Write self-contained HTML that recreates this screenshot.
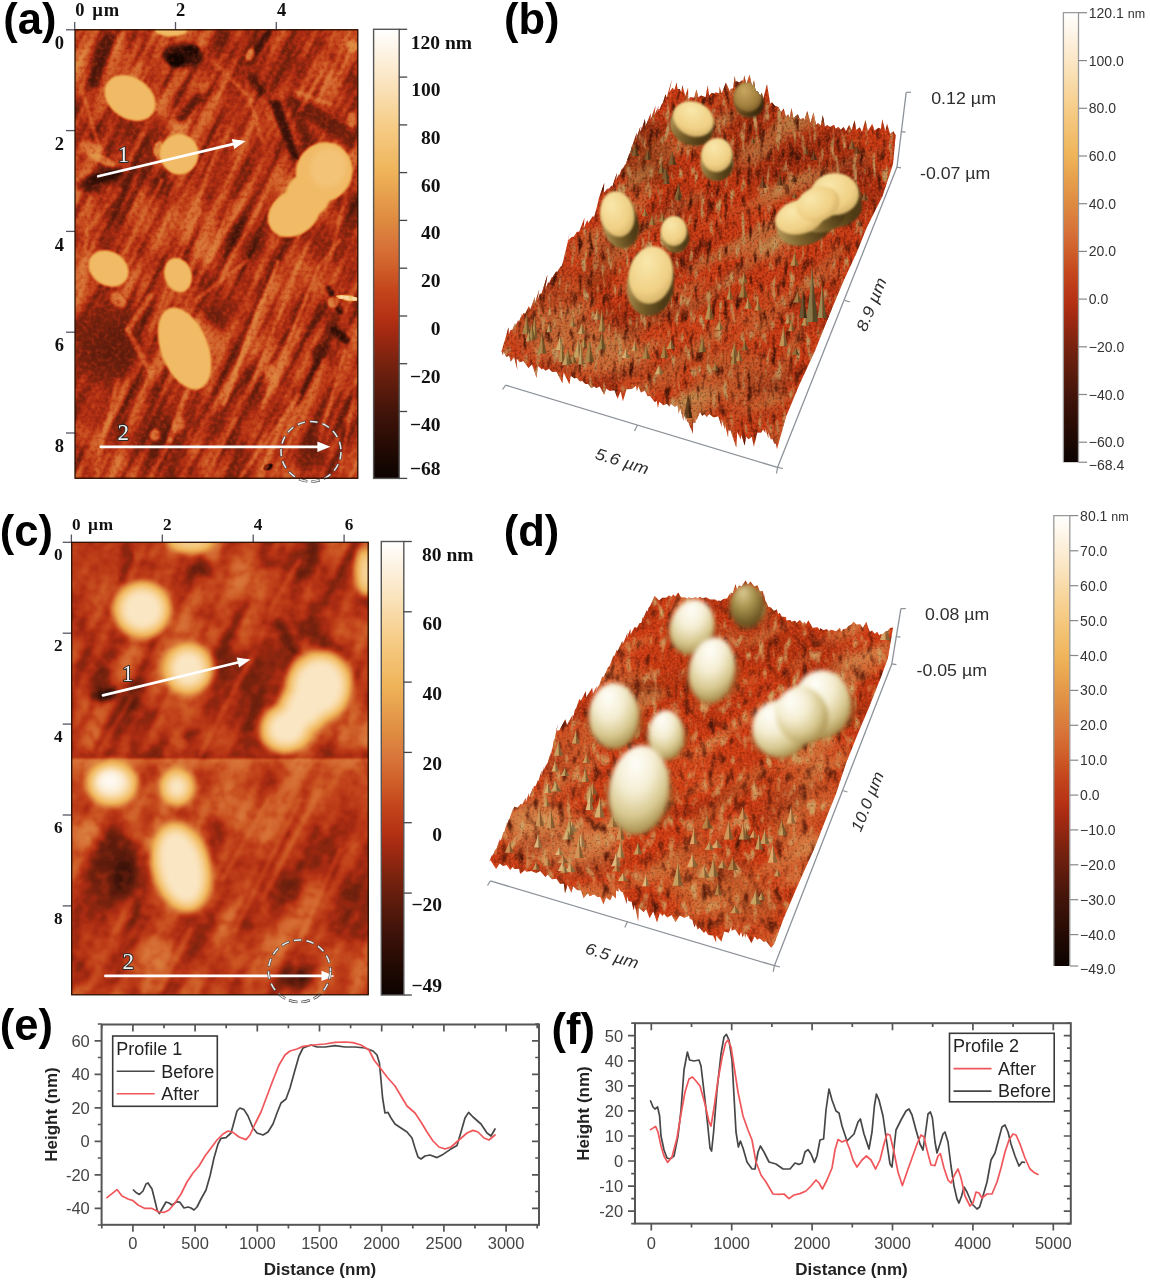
<!DOCTYPE html>
<html lang="en">
<head>
<meta charset="utf-8">
<title>AFM figure</title>
<style>
html,body{margin:0;padding:0;background:#fff;}
body{width:1150px;height:1280px;overflow:hidden;}
svg{display:block;filter:blur(0.4px);}
text{white-space:pre;}
</style>
</head>
<body>
<svg width="1150" height="1280" viewBox="0 0 1150 1280">
<defs>
<linearGradient id="cb" x1="0" y1="1" x2="0" y2="0"><stop offset="0.000" stop-color="#0c0300"/><stop offset="0.075" stop-color="#260b04"/><stop offset="0.149" stop-color="#42140a"/><stop offset="0.255" stop-color="#76220e"/><stop offset="0.330" stop-color="#a62a12"/><stop offset="0.362" stop-color="#b63214"/><stop offset="0.420" stop-color="#c4461c"/><stop offset="0.468" stop-color="#cf5e28"/><stop offset="0.520" stop-color="#d8743a"/><stop offset="0.574" stop-color="#de8a40"/><stop offset="0.681" stop-color="#efb358"/><stop offset="0.787" stop-color="#f6cd88"/><stop offset="0.894" stop-color="#fbe7c6"/><stop offset="1.000" stop-color="#ffffff"/></linearGradient>
<filter id="cm" x="0" y="0" width="1" height="1" color-interpolation-filters="sRGB"><feComponentTransfer><feFuncR type="table" tableValues="0.047 0.090 0.132 0.177 0.223 0.273 0.333 0.393 0.453 0.529 0.607 0.678 0.726 0.756 0.784 0.812 0.833 0.852 0.866 0.883 0.902 0.922 0.939 0.947 0.955 0.963 0.969 0.975 0.981 0.986 0.991 0.995 1.000"/><feFuncG type="table" tableValues="0.012 0.025 0.038 0.052 0.067 0.082 0.098 0.115 0.131 0.144 0.157 0.178 0.214 0.256 0.309 0.370 0.422 0.473 0.523 0.571 0.618 0.665 0.708 0.738 0.768 0.798 0.828 0.858 0.888 0.917 0.945 0.972 1.000"/><feFuncB type="table" tableValues="0.000 0.007 0.013 0.022 0.032 0.040 0.045 0.050 0.054 0.060 0.067 0.074 0.085 0.102 0.127 0.158 0.200 0.232 0.246 0.268 0.296 0.323 0.357 0.412 0.468 0.523 0.591 0.662 0.733 0.802 0.868 0.934 1.000"/></feComponentTransfer></filter>
<filter id="b05" x="-50%" y="-50%" width="200%" height="200%"><feGaussianBlur stdDeviation="0.5"/></filter><filter id="b1" x="-50%" y="-50%" width="200%" height="200%"><feGaussianBlur stdDeviation="1"/></filter><filter id="b15" x="-50%" y="-50%" width="200%" height="200%"><feGaussianBlur stdDeviation="1.5"/></filter><filter id="b2" x="-50%" y="-50%" width="200%" height="200%"><feGaussianBlur stdDeviation="2"/></filter><filter id="b3" x="-50%" y="-50%" width="200%" height="200%"><feGaussianBlur stdDeviation="3"/></filter><filter id="b4" x="-50%" y="-50%" width="200%" height="200%"><feGaussianBlur stdDeviation="4"/></filter><filter id="b6" x="-50%" y="-50%" width="200%" height="200%"><feGaussianBlur stdDeviation="6"/></filter><filter id="b9" x="-50%" y="-50%" width="200%" height="200%"><feGaussianBlur stdDeviation="9"/></filter>
<clipPath id="clipA"><rect x="75" y="29.8" width="282.8" height="448.4"/></clipPath>
<filter id="nA1" x="0" y="0" width="1" height="1" color-interpolation-filters="sRGB"><feTurbulence type="fractalNoise" baseFrequency="0.1 0.01" numOctaves="2" seed="3" result="n"/><feColorMatrix in="n" type="matrix" values="0 0 0 0 0.6 0 0 0 0 0.6 0 0 0 0 0.6 2.2 0 0 0 -1.1" result="w"/><feColorMatrix in="n" type="matrix" values="0 0 0 0 0.12 0 0 0 0 0.12 0 0 0 0 0.12 -2.2 0 0 0 1.1" result="k"/><feMerge><feMergeNode in="w"/><feMergeNode in="k"/></feMerge></filter>
<filter id="nA2" x="0" y="0" width="1" height="1" color-interpolation-filters="sRGB"><feTurbulence type="fractalNoise" baseFrequency="0.24" numOctaves="2" seed="8" result="n"/><feColorMatrix in="n" type="matrix" values="0 0 0 0 0.6 0 0 0 0 0.6 0 0 0 0 0.6 0.65 0 0 0 -0.325" result="w"/><feColorMatrix in="n" type="matrix" values="0 0 0 0 0.12 0 0 0 0 0.12 0 0 0 0 0.12 -0.65 0 0 0 0.325" result="k"/><feMerge><feMergeNode in="w"/><feMergeNode in="k"/></feMerge></filter>
<filter id="nA3" x="0" y="0" width="1" height="1" color-interpolation-filters="sRGB"><feTurbulence type="fractalNoise" baseFrequency="0.03 0.012" numOctaves="2" seed="21" result="n"/><feColorMatrix in="n" type="matrix" values="0 0 0 0 0.6 0 0 0 0 0.6 0 0 0 0 0.6 1.6 0 0 0 -0.8" result="w"/><feColorMatrix in="n" type="matrix" values="0 0 0 0 0.12 0 0 0 0 0.12 0 0 0 0 0.12 -1.6 0 0 0 0.8" result="k"/><feMerge><feMergeNode in="w"/><feMergeNode in="k"/></feMerge></filter>
<clipPath id="clipC"><rect x="71.7" y="542.3" width="296.5" height="452.5"/></clipPath>
<linearGradient id="fadeC" x1="0" y1="0" x2="0" y2="1"><stop offset="0" stop-color="#999" stop-opacity="0.5"/><stop offset="1" stop-color="#999" stop-opacity="0"/></linearGradient>
<linearGradient id="fadeC2" x1="0" y1="1" x2="0" y2="0"><stop offset="0" stop-color="#333" stop-opacity="0.45"/><stop offset="1" stop-color="#333" stop-opacity="0"/></linearGradient>
<filter id="nC1" x="0" y="0" width="1" height="1" color-interpolation-filters="sRGB"><feTurbulence type="fractalNoise" baseFrequency="0.05 0.008" numOctaves="2" seed="5" result="n"/><feColorMatrix in="n" type="matrix" values="0 0 0 0 0.6 0 0 0 0 0.6 0 0 0 0 0.6 1.8 0 0 0 -0.9" result="w"/><feColorMatrix in="n" type="matrix" values="0 0 0 0 0.12 0 0 0 0 0.12 0 0 0 0 0.12 -1.8 0 0 0 0.9" result="k"/><feMerge><feMergeNode in="w"/><feMergeNode in="k"/></feMerge></filter>
<filter id="nC2" x="0" y="0" width="1" height="1" color-interpolation-filters="sRGB"><feTurbulence type="fractalNoise" baseFrequency="0.1" numOctaves="2" seed="11" result="n"/><feColorMatrix in="n" type="matrix" values="0 0 0 0 0.6 0 0 0 0 0.6 0 0 0 0 0.6 0.6 0 0 0 -0.3" result="w"/><feColorMatrix in="n" type="matrix" values="0 0 0 0 0.12 0 0 0 0 0.12 0 0 0 0 0.12 -0.6 0 0 0 0.3" result="k"/><feMerge><feMergeNode in="w"/><feMergeNode in="k"/></feMerge></filter>
<filter id="nC3" x="0" y="0" width="1" height="1" color-interpolation-filters="sRGB"><feTurbulence type="fractalNoise" baseFrequency="0.02 0.012" numOctaves="2" seed="17" result="n"/><feColorMatrix in="n" type="matrix" values="0 0 0 0 0.6 0 0 0 0 0.6 0 0 0 0 0.6 1.6 0 0 0 -0.8" result="w"/><feColorMatrix in="n" type="matrix" values="0 0 0 0 0.12 0 0 0 0 0.12 0 0 0 0 0.12 -1.6 0 0 0 0.8" result="k"/><feMerge><feMergeNode in="w"/><feMergeNode in="k"/></feMerge></filter>
<filter id="nB1" x="0" y="0" width="1" height="1" color-interpolation-filters="sRGB"><feTurbulence type="fractalNoise" baseFrequency="0.17 0.055" numOctaves="2" seed="4" result="n"/><feColorMatrix in="n" type="matrix" values="0 0 0 0 0.737 0 0 0 0 0.612 0 0 0 0 0.384 4.5 0 0 0 -2.565" result="w"/><feColorMatrix in="n" type="matrix" values="0 0 0 0 0.227 0 0 0 0 0.071 0 0 0 0 0.024 -4 0 0 0 1.76" result="k"/><feMerge><feMergeNode in="w"/><feMergeNode in="k"/></feMerge></filter>
<filter id="nB2" x="0" y="0" width="1" height="1" color-interpolation-filters="sRGB"><feTurbulence type="fractalNoise" baseFrequency="0.4" numOctaves="2" seed="9" result="n"/><feColorMatrix in="n" type="matrix" values="0 0 0 0 0.941 0 0 0 0 0.345 0 0 0 0 0.165 1.6 0 0 0 -0.8" result="w"/><feColorMatrix in="n" type="matrix" values="0 0 0 0 0.416 0 0 0 0 0.102 0 0 0 0 0.031 -1.8 0 0 0 0.9" result="k"/><feMerge><feMergeNode in="w"/><feMergeNode in="k"/></feMerge></filter>
<filter id="nB3" x="0" y="0" width="1" height="1" color-interpolation-filters="sRGB"><feTurbulence type="fractalNoise" baseFrequency="0.012 0.035" numOctaves="2" seed="13" result="n"/><feColorMatrix in="n" type="matrix" values="0 0 0 0 0.753 0 0 0 0 0.604 0 0 0 0 0.345 2.4 0 0 0 -1.272" result="w"/><feColorMatrix in="n" type="matrix" values="0 0 0 0 0.478 0 0 0 0 0.125 0 0 0 0 0.047 -2 0 0 0 0.94" result="k"/><feMerge><feMergeNode in="w"/><feMergeNode in="k"/></feMerge></filter>
<radialGradient id="gB" cx="0.4" cy="0.35" r="0.8" fx="0.36" fy="0.28"><stop offset="0" stop-color="#f9e8ac"/><stop offset="0.62" stop-color="#f0d085"/><stop offset="1" stop-color="#c4a055"/></radialGradient><linearGradient id="gBw" x1="0" y1="0" x2="1" y2="0.25"><stop offset="0" stop-color="#c2a466"/><stop offset="0.55" stop-color="#80662e"/><stop offset="1" stop-color="#4e3a16"/></linearGradient>
<radialGradient id="gBd" cx="0.4" cy="0.35" r="0.8" fx="0.36" fy="0.28"><stop offset="0" stop-color="#c9a860"/><stop offset="0.62" stop-color="#a07e3c"/><stop offset="1" stop-color="#6a4a1e"/></radialGradient><linearGradient id="gBdw" x1="0" y1="0" x2="1" y2="0.25"><stop offset="0" stop-color="#8a6c34"/><stop offset="0.55" stop-color="#5a4018"/><stop offset="1" stop-color="#3a280e"/></linearGradient>
<clipPath id="clipB"><polygon points="501.3,352 503,346.7 502.7,347.1 504.6,341.3 505.1,339.4 508.4,327.2 508.8,334.6 510.4,330.3 512.5,329.5 515,323.6 515.8,325.2 518.1,320.2 518.9,322 522,313.7 521.5,318 523.2,313 525.1,313.9 528.9,306.2 530.3,309.5 534.9,297.1 534.5,304.5 539.3,289.2 537.3,300.4 539.9,294.1 541.7,293.3 547.5,274.4 545.2,289.7 548.2,282.3 549.2,282.9 551.7,277.5 552.8,276.9 556.1,271.4 557.2,272 560.2,266.9 561.8,266.1 562.9,262.3 563,262.2 564.2,257.3 563.8,258 566.5,247.7 565.5,251.1 569.9,234 567.2,244.5 569.7,233.1 567.7,241.1 571.6,236.9 573.8,236.7 576.8,232.1 579.3,231.6 584.5,217.7 583.7,228.2 587.3,220.1 588.4,223.1 592.9,216 594,217.3 595.4,212.8 595.6,211.7 600.6,192.4 597.8,203.6 599,197.5 599,197.7 604.4,182.8 603.6,192.9 607.4,188.7 609.4,188.4 611.5,185.4 612.1,187.2 616.9,172.8 616.2,179.8 618.7,174.3 618.9,175.9 622.2,168.1 622.5,169.5 625.6,163.4 625.6,165.4 627.4,159 628.2,157.6 629.5,153.2 630.1,153.5 632.5,143.8 632,147 636.8,132.4 636,139.9 640.3,126.5 639.7,132.9 642.7,125.1 641.1,131.9 644.9,119.1 645.5,126.2 650.9,112.9 650.5,120 655.6,105.6 654.4,115 659,105.5 656.2,114.2 658.4,109.1 659.5,109.3 662.4,103 662.7,103.4 665.6,94 666.7,97.8 672,79.2 669.2,93 669.7,91.8 672.6,87.8 674.3,90 676.7,82.4 677.4,89 679.5,89 681.3,92.2 682.3,85.2 685.3,96 688.1,87.5 688.2,99.2 690.5,96.9 694.2,97.8 696.4,89.4 698.4,97.3 701.1,95.4 705.6,97.3 707.6,85.2 709.2,95.4 711.8,92.7 714.3,93.7 715.8,92.2 719.3,93.4 719.5,86.5 721.7,93.6 725.9,82.8 729.9,91.4 730.6,89 733.1,88.2 734.8,75.5 735.5,82.3 736,81 739.5,82.5 742.4,79.9 743.2,81.6 744.2,75.4 746.3,84 749.6,74.6 752.2,87.2 754,80.2 755.6,91.5 757.7,91 760.1,96.1 761.9,92.8 763.2,99 767,84.1 770.2,104 771.9,102.3 774.8,105.7 778.3,106.9 781,112.3 783.7,108.6 785.8,116.8 788.2,114.4 789.6,118.1 791.5,108 793.4,118.3 797.8,114.3 799.8,119.2 803.9,118.2 804.2,120.9 807.2,111 810.5,123.3 813.4,112.5 816.1,124.7 817.9,123 820.9,125.4 822.7,115.1 824.9,126.7 827.2,125 830.2,127.1 834,124.8 835.6,128.7 838.4,127 840.8,129.8 843.6,127 846,131.2 849.1,124.9 851.5,130.2 854.7,120.3 856.2,130.1 859.8,127.3 862,132.1 865.4,120.1 867.9,130.9 872.2,123.7 874.5,130.4 878.8,127.7 880.9,129.1 882.3,119.3 885.3,131.2 887.1,123.7 890,134.1 893.4,131.2 895.7,135.3 893,164.3 882.6,195.7 867,227 856.5,253 843.5,280.9 830.4,312.2 814.8,351.3 799.1,385.2 786.1,416.5 778,445.2 777,448.9 775.9,443.8 774.4,443.8 772.5,439.1 770.8,439.2 768.3,432.1 768.3,437.9 765.3,428.2 765.4,433.1 763.1,429.5 761.1,432.8 757.3,432.5 753.9,446.4 751.7,436.7 748.5,439.3 746,436.5 744.7,445.4 741.2,434.5 740.8,439.6 737.2,432.2 736.3,447.4 730.3,429.7 729,431.3 728.4,428.6 728.1,437.7 724.9,423.9 725,429.4 721.5,418.8 721.8,427.2 718.3,416.3 713.9,417.5 709.1,414.1 706.8,416.9 704.6,414.3 702.2,415.8 700.1,412.1 696.4,420.2 695.8,416.7 695.3,422.8 693.1,422.5 693,433.7 690.5,427.3 690.4,427.7 688.4,422.3 687.3,421.5 684.7,412.7 686.1,421.3 683.4,412.1 683.5,420.9 680,407.2 678.8,413.5 677.5,405 674.8,406.7 670.9,403.8 669.4,406.6 667,403.8 663.3,405.2 659.3,401.8 657.9,408.1 656.7,400.8 654.8,402.2 650.1,396.1 647.8,396.2 644.8,390.5 641,392.4 638.3,386.3 636.9,391 636.1,385.7 631.9,388.9 626.5,389.3 622.9,401.3 620.7,391.3 617.6,398.7 614.5,390 609.9,391.1 606.1,388.5 604.2,394.7 599.9,386.6 596.1,388.1 594.3,386.2 591.3,387.9 588.2,383.9 585.5,384 582.1,380.8 580,381.4 576.9,378 574.2,378.3 570.7,375.8 569.5,384.4 563.5,372.3 562.4,383.2 556.6,371.7 551.9,371.8 549.1,368.7 545.6,370.4 542.7,368.3 542,369.5 537.8,365.8 536.6,377.8 532,364.3 528.5,367.9 523.4,360.9 519.7,362.2 516.5,358.2 517.4,370 514.1,357 510.8,361.5 509.1,355.2 506.4,357.3 503.6,351.5 502.9,355.4 501.7,351.3"/></clipPath>
<filter id="nD1" x="0" y="0" width="1" height="1" color-interpolation-filters="sRGB"><feTurbulence type="fractalNoise" baseFrequency="0.12 0.06" numOctaves="2" seed="5" result="n"/><feColorMatrix in="n" type="matrix" values="0 0 0 0 0.816 0 0 0 0 0.659 0 0 0 0 0.408 4 0 0 0 -2.28" result="w"/><feColorMatrix in="n" type="matrix" values="0 0 0 0 0.29 0 0 0 0 0.086 0 0 0 0 0.031 -3.5 0 0 0 1.54" result="k"/><feMerge><feMergeNode in="w"/><feMergeNode in="k"/></feMerge></filter>
<filter id="nD2" x="0" y="0" width="1" height="1" color-interpolation-filters="sRGB"><feTurbulence type="fractalNoise" baseFrequency="0.4" numOctaves="2" seed="19" result="n"/><feColorMatrix in="n" type="matrix" values="0 0 0 0 0.957 0 0 0 0 0.361 0 0 0 0 0.165 1.6 0 0 0 -0.8" result="w"/><feColorMatrix in="n" type="matrix" values="0 0 0 0 0.478 0 0 0 0 0.125 0 0 0 0 0.039 -1.6 0 0 0 0.8" result="k"/><feMerge><feMergeNode in="w"/><feMergeNode in="k"/></feMerge></filter>
<filter id="nD3" x="0" y="0" width="1" height="1" color-interpolation-filters="sRGB"><feTurbulence type="fractalNoise" baseFrequency="0.014 0.035" numOctaves="2" seed="23" result="n"/><feColorMatrix in="n" type="matrix" values="0 0 0 0 0.847 0 0 0 0 0.627 0 0 0 0 0.361 2.2 0 0 0 -1.166" result="w"/><feColorMatrix in="n" type="matrix" values="0 0 0 0 0.541 0 0 0 0 0.141 0 0 0 0 0.047 -1.6 0 0 0 0.752" result="k"/><feMerge><feMergeNode in="w"/><feMergeNode in="k"/></feMerge></filter>
<radialGradient id="gD" cx="0.42" cy="0.3" r="0.78" fx="0.38" fy="0.2"><stop offset="0" stop-color="#fffffa"/><stop offset="0.38" stop-color="#f5eed4"/><stop offset="0.68" stop-color="#d8c990"/><stop offset="0.9" stop-color="#aa9150"/><stop offset="1" stop-color="#8a6a32"/></radialGradient>
<radialGradient id="gDd" cx="0.42" cy="0.3" r="0.78" fx="0.38" fy="0.2"><stop offset="0" stop-color="#dccb94"/><stop offset="0.4" stop-color="#a8934e"/><stop offset="0.8" stop-color="#6e5824"/><stop offset="1" stop-color="#543c16"/></radialGradient>
<clipPath id="clipD"><polygon points="489,862 492.3,854.6 492.7,855.9 494.9,850.5 496.6,848.5 500.4,837.5 499.2,843.7 499.8,840.9 501.3,839.5 503.7,831.7 504.1,833.1 507.3,821.6 506.4,826.2 508.9,819.7 509.7,818.5 513.6,807.6 512.7,812.3 514.3,806.8 517.6,807.7 520.9,803.8 522.1,804.9 525.7,797.8 525.8,802.4 528.9,793 529.1,797.5 533.6,786.3 532.8,791.4 534.3,786.1 535.8,785.7 537.8,780.4 538.5,780.9 541.6,770.4 541.2,776.8 544.3,765.6 543.2,771 546,765.2 547.6,763.3 550.9,752.1 550.2,759.1 552.4,747.7 550.9,753.3 552.1,748.5 552.5,748.8 554.1,739.1 554,741.9 558,724 554.7,735.7 556.1,730.9 559.5,730.2 565.3,719.2 566.9,725.3 572.7,714.8 571.2,722.2 573.3,715.4 573.5,716.1 575,709.8 576.3,708.2 577.7,703.8 578.2,702.8 579.2,698.9 580.9,700.7 585.9,690.9 586.2,697.6 592.2,687.8 592.9,693.7 596.8,686.1 596,690.6 597.8,686.9 599.2,685.6 602.2,676.7 604.1,676.7 605.2,672.9 605.6,673.2 608.1,667.2 609.9,665.7 613.3,655.5 612.3,660.1 613.9,655.3 614.7,656 616.6,649.7 617.6,651.3 622.3,641 622.8,644.2 627.5,632.9 626.8,638.2 630.4,629.1 630.5,634.8 634.6,626.9 636.9,627.9 639.6,622.9 641.4,622.9 643.1,616.3 643.4,618.5 646.7,610.2 647.7,611.5 648.5,607.9 650,606.2 652,601.9 654.7,596.1 659.1,600.5 662.4,597.8 666.2,597.7 669,595.4 671.7,596.8 673.3,594.3 675.1,596.7 678.3,592.5 681,597.5 685,597.5 687.7,598.7 688.4,597.5 692.6,598.4 695,597.3 697.8,598.2 700,596.8 701.9,598.3 706.3,597.5 710.3,599.6 715.2,599.4 717.1,600.9 719.2,600.6 719.9,601.4 723.5,599.1 727.1,598.6 730.5,592.4 730.1,596.2 731.6,592.6 732.7,593.5 735.5,584.1 737,589.7 739,585.4 741.5,586.4 745.6,580.4 747.8,584.7 750.4,581.4 754.4,586.6 757.5,585.3 759.8,591.6 762.7,590.9 764.3,597.9 763.9,593.2 765.3,600.7 766.7,603 768.2,606.7 770.9,607.5 773.9,611 776.9,609.4 778,614.3 779.6,612.7 781.9,616.8 786.1,617.1 786.2,620.6 790.4,619.9 791.6,621.8 795,620.8 796.6,622.9 799.7,620 803.3,623.9 804.2,621.8 806.2,624.3 808.3,620.2 812.7,628.1 817.6,627.3 819.7,630.3 820.3,628.2 823.6,630.3 826.6,629.1 828.7,631 831.6,629.8 836.1,631.5 840,627.7 841,632.1 843.3,628.9 846.4,628.7 848.4,626 851.5,624.5 853.6,621.7 856.5,624.8 860.1,624.2 862.9,628.1 866.2,622.1 869.8,632 872,630.6 874.7,633.8 877.2,631.8 879.3,635.4 880.1,634.2 882.5,634.3 886.3,630.9 887.2,631.3 890.2,628.1 893,627.4 887.8,658.7 880,679.6 869.6,705.7 856.5,737 846.1,763 835.7,794.4 827.8,814.1 814.8,847.2 799.1,882.2 783.5,918.7 774,944.2 771.1,947.7 766.1,940.9 763.8,942 759.8,938.2 757.1,939.8 754.7,936.3 751.4,943.3 746.2,933.8 745.1,937.9 744.5,933.6 742.6,937.2 741,931.5 739.6,936.1 735.1,929.3 731.6,930.7 731.3,925.9 728.8,932.8 724.2,931.4 721.4,941.6 716.1,935.4 716.2,942.6 713,935.4 708.2,935 705.7,930.7 704,933 699.6,927.8 697.6,929.4 695.9,923.7 694.6,927.4 692.3,919.8 689.9,918.7 689,915.7 684.2,917.8 679.7,915.4 675.5,922 671.6,915 667.3,917.5 664,913.8 662.6,916.1 659.9,912.9 657,922.6 653.3,911.2 649.6,918.2 646.2,909.1 643.6,912.1 638.7,907.4 638.2,921.3 634.7,904.5 633.7,910.6 631.7,901.7 628.6,900.9 626.9,895.9 626.7,903.8 622.9,892.5 620.8,891.3 618.4,887.7 618.5,891.8 616.1,889.9 615.9,898.6 612.5,895 610.2,900.3 605.9,897.2 603.5,904.6 600.3,896.7 597.5,897 594,894.2 589.7,896.3 588,892.9 583.6,897.9 581,890.3 577.4,890.2 573,886.2 571.5,892.7 567.6,884.8 565,893.4 563.8,883.5 560,883.8 556.4,878.7 552,879.3 547.8,874.5 545.4,877 540.3,871 536.2,873 531.3,870.9 526.3,871.7 525,870 520.1,874.1 519.1,868.8 514.6,869 512.3,866.9 510.4,870.1 506.6,865.1 503.2,866.1 499.7,863.5 496.1,868.9 490.5,860.2 489.1,861.3"/></clipPath>
</defs>
<rect width="1150" height="1280" fill="#fff"/>
<g clip-path="url(#clipA)"><g filter="url(#cm)"><rect x="70" y="24.8" width="292.8" height="458.4" fill="#606060"/>
<rect x="-103.6" y="-66" width="640" height="640" filter="url(#nA3)" transform="rotate(-35 216.4 254)"/>
<rect x="-103.6" y="-66" width="640" height="640" filter="url(#nA1)" transform="rotate(27 216.4 254)"/>
<ellipse cx="108" cy="343" rx="36" ry="42" fill="#404040" transform="rotate(12 108 343)" opacity="0.9" filter="url(#b4)"/>
<ellipse cx="112" cy="350" rx="22" ry="28" fill="#333333" transform="rotate(12 112 350)" opacity="0.5" filter="url(#b4)"/>
<ellipse cx="97" cy="395" rx="20" ry="36" fill="#454545" transform="rotate(22 97 395)" opacity="0.6" filter="url(#b4)"/>
<ellipse cx="182" cy="56" rx="20" ry="11" fill="#141414" transform="rotate(5 182 56)" opacity="0.9" filter="url(#b2)"/>
<ellipse cx="176" cy="60" rx="9" ry="7" fill="#000000" opacity="0.85" filter="url(#b1)"/>
<ellipse cx="192" cy="50" rx="8" ry="5" fill="#000000" opacity="0.7" filter="url(#b1)"/>
<line x1="109" y1="38" x2="93" y2="82" stroke="#212121" stroke-width="13" stroke-linecap="round" opacity="0.8" filter="url(#b2)"/>
<line x1="98" y1="80" x2="88" y2="110" stroke="#333333" stroke-width="8" stroke-linecap="round" opacity="0.5" filter="url(#b2)"/>
<line x1="268" y1="32" x2="250" y2="60" stroke="#141414" stroke-width="7" stroke-linecap="round" opacity="0.8" filter="url(#b1)"/>
<line x1="252" y1="78" x2="262" y2="92" stroke="#141414" stroke-width="9" stroke-linecap="round" opacity="0.7" filter="url(#b2)"/>
<line x1="198" y1="98" x2="181" y2="118" stroke="#1f1f1f" stroke-width="10" stroke-linecap="round" opacity="0.75" filter="url(#b2)"/>
<line x1="216" y1="88" x2="200" y2="100" stroke="#333333" stroke-width="7" stroke-linecap="round" opacity="0.5" filter="url(#b2)"/>
<polygon points="268,100 280,100 300,160 292,160" fill="#141414" opacity="0.85" filter="url(#b15)"/>
<polygon points="286,98 296,96 312,140 304,146" fill="#333333" opacity="0.6" filter="url(#b15)"/>
<polygon points="290,97 320,108 350,128 357,150 340,142 318,126 296,110" fill="#333333" opacity="0.75" filter="url(#b2)"/>
<ellipse cx="104" cy="177" rx="21" ry="7" fill="#0d0d0d" transform="rotate(-15 104 177)" opacity="0.85" filter="url(#b2)"/>
<ellipse cx="90" cy="187" rx="14" ry="6" fill="#1a1a1a" transform="rotate(12 90 187)" opacity="0.7" filter="url(#b2)"/>
<ellipse cx="214" cy="316" rx="17" ry="9" fill="#333333" transform="rotate(40 214 316)" opacity="0.65" filter="url(#b3)"/>
<line x1="329" y1="288" x2="340" y2="312" stroke="#0d0d0d" stroke-width="5" stroke-linecap="round" opacity="0.8" filter="url(#b1)"/>
<line x1="334" y1="330" x2="346" y2="340" stroke="#0d0d0d" stroke-width="7" stroke-linecap="round" opacity="0.8" filter="url(#b1)"/>
<ellipse cx="320" cy="352" rx="10" ry="8" fill="#262626" transform="rotate(-30 320 352)" opacity="0.7" filter="url(#b2)"/>
<line x1="318" y1="360" x2="298" y2="402" stroke="#1f1f1f" stroke-width="4.5" stroke-linecap="round" opacity="0.7" filter="url(#b1)"/>
<ellipse cx="311" cy="452" rx="14" ry="22" fill="#333333" transform="rotate(25 311 452)" opacity="0.7" filter="url(#b4)"/>
<ellipse cx="343" cy="430" rx="6" ry="10" fill="#2e2e2e" opacity="0.6" filter="url(#b2)"/>
<ellipse cx="268" cy="467" rx="5" ry="3" fill="#000000" transform="rotate(-30 268 467)" opacity="0.9" filter="url(#b05)"/>
<ellipse cx="332" cy="238" rx="28" ry="15" fill="#454545" transform="rotate(25 332 238)" opacity="0.55" filter="url(#b4)"/>
<ellipse cx="240" cy="420" rx="40" ry="16" fill="#4c4c4c" transform="rotate(-32 240 420)" opacity="0.45" filter="url(#b6)"/>
<ellipse cx="150" cy="120" rx="10" ry="22" fill="#404040" transform="rotate(-35 150 120)" opacity="0.5" filter="url(#b3)"/>
<ellipse cx="236" cy="300" rx="10" ry="30" fill="#4c4c4c" transform="rotate(25 236 300)" opacity="0.4" filter="url(#b4)"/>
<ellipse cx="130" cy="440" rx="22" ry="10" fill="#4c4c4c" transform="rotate(-20 130 440)" opacity="0.4" filter="url(#b4)"/>
<ellipse cx="215" cy="180" rx="8" ry="26" fill="#474747" transform="rotate(25 215 180)" opacity="0.4" filter="url(#b3)"/>
<line x1="278" y1="262" x2="224" y2="404" stroke="#999999" stroke-width="4" stroke-linecap="round" opacity="0.7" filter="url(#b1)"/>
<line x1="300" y1="262" x2="250" y2="390" stroke="#999999" stroke-width="3.5" stroke-linecap="round" opacity="0.55" filter="url(#b1)"/>
<line x1="318" y1="268" x2="262" y2="408" stroke="#999999" stroke-width="3.5" stroke-linecap="round" opacity="0.6" filter="url(#b1)"/>
<line x1="262" y1="300" x2="232" y2="380" stroke="#999999" stroke-width="3" stroke-linecap="round" opacity="0.6" filter="url(#b1)"/>
<line x1="248" y1="260" x2="196" y2="300" stroke="#999999" stroke-width="3.5" stroke-linecap="round" opacity="0.5" filter="url(#b1)"/>
<line x1="200" y1="210" x2="150" y2="330" stroke="#999999" stroke-width="3.5" stroke-linecap="round" opacity="0.45" filter="url(#b1)"/>
<line x1="232" y1="200" x2="208" y2="262" stroke="#999999" stroke-width="3.5" stroke-linecap="round" opacity="0.5" filter="url(#b1)"/>
<line x1="162" y1="180" x2="120" y2="262" stroke="#999999" stroke-width="4" stroke-linecap="round" opacity="0.45" filter="url(#b1)"/>
<line x1="150" y1="296" x2="128" y2="330" stroke="#999999" stroke-width="6" stroke-linecap="round" opacity="0.6" filter="url(#b1)"/>
<line x1="128" y1="330" x2="150" y2="372" stroke="#999999" stroke-width="5" stroke-linecap="round" opacity="0.5" filter="url(#b1)"/>
<line x1="187" y1="392" x2="170" y2="440" stroke="#999999" stroke-width="6" stroke-linecap="round" opacity="0.6" filter="url(#b1)"/>
<line x1="170" y1="440" x2="150" y2="478" stroke="#999999" stroke-width="5" stroke-linecap="round" opacity="0.5" filter="url(#b1)"/>
<line x1="300" y1="395" x2="240" y2="478" stroke="#999999" stroke-width="4" stroke-linecap="round" opacity="0.5" filter="url(#b1)"/>
<line x1="352" y1="170" x2="330" y2="260" stroke="#999999" stroke-width="3.5" stroke-linecap="round" opacity="0.4" filter="url(#b1)"/>
<line x1="118" y1="380" x2="96" y2="470" stroke="#999999" stroke-width="4.5" stroke-linecap="round" opacity="0.45" filter="url(#b1)"/>
<line x1="212" y1="60" x2="252" y2="100" stroke="#999999" stroke-width="3.5" stroke-linecap="round" opacity="0.45" filter="url(#b1)"/>
<line x1="250" y1="100" x2="262" y2="140" stroke="#999999" stroke-width="3.5" stroke-linecap="round" opacity="0.5" filter="url(#b1)"/>
<line x1="140" y1="40" x2="126" y2="72" stroke="#999999" stroke-width="4.5" stroke-linecap="round" opacity="0.45" filter="url(#b1)"/>
<line x1="82" y1="90" x2="100" y2="150" stroke="#999999" stroke-width="4" stroke-linecap="round" opacity="0.45" filter="url(#b1)"/>
<line x1="235" y1="420" x2="205" y2="478" stroke="#999999" stroke-width="4.5" stroke-linecap="round" opacity="0.5" filter="url(#b1)"/>
<line x1="345" y1="350" x2="320" y2="440" stroke="#999999" stroke-width="3.5" stroke-linecap="round" opacity="0.45" filter="url(#b1)"/>
<line x1="88" y1="225" x2="80" y2="300" stroke="#999999" stroke-width="4" stroke-linecap="round" opacity="0.45" filter="url(#b1)"/>
<line x1="330" y1="60" x2="300" y2="110" stroke="#999999" stroke-width="4" stroke-linecap="round" opacity="0.4" filter="url(#b1)"/>
<line x1="220" y1="140" x2="196" y2="206" stroke="#999999" stroke-width="3.5" stroke-linecap="round" opacity="0.45" filter="url(#b1)"/>
<line x1="205" y1="118" x2="168" y2="200" stroke="#999999" stroke-width="3.5" stroke-linecap="round" opacity="0.4" filter="url(#b1)"/>
<line x1="340" y1="240" x2="318" y2="268" stroke="#999999" stroke-width="4" stroke-linecap="round" opacity="0.5" filter="url(#b1)"/>
<line x1="296" y1="92" x2="330" y2="104" stroke="#999999" stroke-width="4" stroke-linecap="round" opacity="0.55" filter="url(#b1)"/>
<line x1="120" y1="190" x2="88" y2="230" stroke="#999999" stroke-width="5" stroke-linecap="round" opacity="0.4" filter="url(#b1)"/>
<line x1="282" y1="420" x2="262" y2="478" stroke="#999999" stroke-width="4" stroke-linecap="round" opacity="0.45" filter="url(#b1)"/>
<line x1="357" y1="380" x2="340" y2="470" stroke="#999999" stroke-width="4" stroke-linecap="round" opacity="0.4" filter="url(#b1)"/>
<ellipse cx="92" cy="150" rx="12" ry="8" fill="#9e9e9e" transform="rotate(30 92 150)" opacity="0.7" filter="url(#b2)"/>
<ellipse cx="103" cy="160" rx="14" ry="4" fill="#a3a3a3" transform="rotate(25 103 160)" opacity="0.7" filter="url(#b1)"/>
<ellipse cx="160" cy="150" rx="7" ry="9" fill="#a8a8a8" opacity="0.8" filter="url(#b1)"/>
<ellipse cx="250" cy="55" rx="4" ry="7" fill="#a3a3a3" transform="rotate(20 250 55)" opacity="0.8" filter="url(#b1)"/>
<ellipse cx="352" cy="46" rx="6" ry="6" fill="#a3a3a3" opacity="0.7" filter="url(#b1)"/>
<ellipse cx="352" cy="120" rx="5" ry="8" fill="#9e9e9e" opacity="0.6" filter="url(#b1)"/>
<ellipse cx="348" cy="298" rx="12" ry="2.5" fill="#e0e0e0" transform="rotate(8 348 298)" opacity="0.95" filter="url(#b05)"/>
<ellipse cx="333" cy="302" rx="6" ry="6" fill="#a3a3a3" opacity="0.7" filter="url(#b1)"/>
<ellipse cx="155" cy="435" rx="5" ry="6" fill="#9e9e9e" opacity="0.7" filter="url(#b1)"/>
<ellipse cx="178" cy="425" rx="6" ry="9" fill="#999999" transform="rotate(20 178 425)" opacity="0.6" filter="url(#b1)"/>
<ellipse cx="270" cy="372" rx="6" ry="8" fill="#949494" opacity="0.6" filter="url(#b1)"/>
<ellipse cx="118" cy="300" rx="10" ry="6" fill="#999999" transform="rotate(40 118 300)" opacity="0.6" filter="url(#b1)"/>
<ellipse cx="135" cy="72" rx="14" ry="6" fill="#8c8c8c" transform="rotate(-40 135 72)" opacity="0.5" filter="url(#b2)"/>
<ellipse cx="85" cy="285" rx="8" ry="14" fill="#858585" opacity="0.5" filter="url(#b3)"/>
<rect x="70" y="24.8" width="292.8" height="458.4" filter="url(#nA2)"/>
<g filter="url(#b1)"><ellipse cx="130" cy="98" rx="27.5" ry="20.5" fill="#b6b6b6" transform="rotate(35 130 98)"/><ellipse cx="179.3" cy="154.3" rx="19.3" ry="20.2" fill="#b6b6b6"/><ellipse cx="324" cy="172" rx="28" ry="30" fill="#b6b6b6" transform="rotate(20 324 172)"/><ellipse cx="294" cy="213" rx="28" ry="22" fill="#b6b6b6" transform="rotate(-35 294 213)"/><ellipse cx="308" cy="195" rx="22" ry="22" fill="#b6b6b6"/><ellipse cx="171" cy="30" rx="16" ry="6.5" fill="#b6b6b6"/><ellipse cx="108.5" cy="268.5" rx="21" ry="17" fill="#b6b6b6" transform="rotate(32 108.5 268.5)"/><ellipse cx="178" cy="275" rx="13.5" ry="17.5" fill="#b6b6b6" transform="rotate(-18 178 275)"/><ellipse cx="184.5" cy="348.5" rx="23.5" ry="43" fill="#b6b6b6" transform="rotate(-21 184.5 348.5)"/></g>
<ellipse cx="328" cy="168" rx="18" ry="20" fill="#c2c2c2" transform="rotate(20 328 168)" opacity="0.8" filter="url(#b3)"/></g></g>
<line x1="98.2" y1="176.3" x2="235" y2="143.6" stroke="#fff" stroke-width="2.7" stroke-linecap="round"/>
<polygon points="245.7,141 234.3,149.1 231.8,139" fill="#fff"/>
<line x1="100.8" y1="446.8" x2="319.4" y2="446.8" stroke="#fff" stroke-width="2.7" stroke-linecap="round"/>
<polygon points="330.4,446.8 317.4,452 317.4,441.6" fill="#fff"/>
<text x="123.5" y="162" text-anchor="middle" style="font-family:'Liberation Serif', 'Times New Roman', serif;font-size:23px;fill:#f1f1f1;stroke:#2a2a2a;stroke-width:1.9px;stroke-linejoin:round;paint-order:stroke">1</text>
<text x="123.2" y="439.6" text-anchor="middle" style="font-family:'Liberation Serif', 'Times New Roman', serif;font-size:23px;fill:#f1f1f1;stroke:#2a2a2a;stroke-width:1.9px;stroke-linejoin:round;paint-order:stroke">2</text>
<circle cx="311" cy="451.5" r="30" fill="none" stroke="#444" stroke-width="2.6" stroke-dasharray="8.5 4.2"/>
<circle cx="311" cy="451.5" r="30" fill="none" stroke="#e9e9e9" stroke-width="1.5" stroke-dasharray="7.5 5.2" stroke-dashoffset="-0.5"/>
<g clip-path="url(#clipC)"><g filter="url(#cm)"><g filter="url(#b1)"><rect x="66.7" y="537.3" width="306.5" height="462.5" fill="#626262"/>
<rect x="-110.1" y="438.5" width="660" height="660" filter="url(#nC3)" transform="rotate(-30 219.9 768.5)"/>
<rect x="-110.1" y="438.5" width="660" height="660" filter="url(#nC1)" transform="rotate(25 219.9 768.5)"/>
<rect x="66.7" y="758.7" width="306.5" height="241.1" fill="#999999" opacity="0.12"/>
<rect x="66.7" y="758.7" width="306.5" height="16" fill="url(#fadeC)"/>
<rect x="66.7" y="738.7" width="306.5" height="20" fill="url(#fadeC2)"/>
<ellipse cx="113" cy="868" rx="26" ry="40" fill="#333333" transform="rotate(8 113 868)" opacity="0.75" filter="url(#b6)"/>
<ellipse cx="124" cy="877" rx="11" ry="18" fill="#141414" transform="rotate(5 124 877)" opacity="0.7" filter="url(#b4)"/>
<ellipse cx="92" cy="900" rx="20" ry="30" fill="#454545" opacity="0.5" filter="url(#b6)"/>
<ellipse cx="105" cy="694" rx="13" ry="7" fill="#050505" transform="rotate(-12 105 694)" opacity="0.9" filter="url(#b3)"/>
<ellipse cx="98" cy="680" rx="18" ry="16" fill="#383838" opacity="0.5" filter="url(#b6)"/>
<line x1="130" y1="552" x2="122" y2="578" stroke="#2e2e2e" stroke-width="8" stroke-linecap="round" opacity="0.65" filter="url(#b3)"/>
<ellipse cx="203" cy="569" rx="11" ry="8" fill="#262626" transform="rotate(20 203 569)" opacity="0.7" filter="url(#b3)"/>
<ellipse cx="268" cy="563" rx="8" ry="6" fill="#333333" transform="rotate(-30 268 563)" opacity="0.55" filter="url(#b3)"/>
<line x1="278" y1="622" x2="294" y2="650" stroke="#2b2b2b" stroke-width="10" stroke-linecap="round" opacity="0.7" filter="url(#b3)"/>
<line x1="300" y1="628" x2="348" y2="655" stroke="#333333" stroke-width="11" stroke-linecap="round" opacity="0.65" filter="url(#b4)"/>
<ellipse cx="210" cy="615" rx="18" ry="8" fill="#404040" transform="rotate(30 210 615)" opacity="0.5" filter="url(#b4)"/>
<ellipse cx="189" cy="735" rx="6" ry="6" fill="#262626" opacity="0.7" filter="url(#b3)"/>
<ellipse cx="225" cy="700" rx="30" ry="40" fill="#525252" transform="rotate(20 225 700)" opacity="0.4" filter="url(#b9)"/>
<ellipse cx="286" cy="890" rx="22" ry="16" fill="#383838" transform="rotate(-40 286 890)" opacity="0.55" filter="url(#b6)"/>
<ellipse cx="322" cy="860" rx="10" ry="22" fill="#404040" transform="rotate(25 322 860)" opacity="0.5" filter="url(#b4)"/>
<ellipse cx="297" cy="978" rx="16" ry="10" fill="#1a1a1a" opacity="0.75" filter="url(#b4)"/>
<ellipse cx="215" cy="830" rx="10" ry="16" fill="#333333" transform="rotate(-20 215 830)" opacity="0.55" filter="url(#b4)"/>
<ellipse cx="230" cy="880" rx="14" ry="30" fill="#4c4c4c" transform="rotate(25 230 880)" opacity="0.45" filter="url(#b6)"/>
<ellipse cx="200" cy="940" rx="14" ry="30" fill="#4c4c4c" transform="rotate(15 200 940)" opacity="0.45" filter="url(#b6)"/>
<ellipse cx="85" cy="975" rx="10" ry="10" fill="#404040" opacity="0.5" filter="url(#b4)"/>
<ellipse cx="345" cy="800" rx="14" ry="22" fill="#808080" opacity="0.35" filter="url(#b6)"/>
<ellipse cx="84" cy="832" rx="16" ry="12" fill="#999999" opacity="0.6" filter="url(#b4)"/>
<ellipse cx="150" cy="840" rx="20" ry="8" fill="#8f8f8f" transform="rotate(20 150 840)" opacity="0.5" filter="url(#b4)"/>
<ellipse cx="300" cy="790" rx="40" ry="25" fill="#8a8a8a" transform="rotate(-30 300 790)" opacity="0.4" filter="url(#b9)"/>
<ellipse cx="260" cy="950" rx="30" ry="12" fill="#8c8c8c" transform="rotate(-40 260 950)" opacity="0.4" filter="url(#b6)"/>
<ellipse cx="150" cy="960" rx="30" ry="14" fill="#8c8c8c" transform="rotate(-20 150 960)" opacity="0.4" filter="url(#b6)"/>
<rect x="66.7" y="537.3" width="306.5" height="462.5" filter="url(#nC2)"/>
<line x1="300" y1="800" x2="235" y2="930" stroke="#8f8f8f" stroke-width="5" stroke-linecap="round" opacity="0.4" filter="url(#b1)"/>
<line x1="320" y1="790" x2="262" y2="900" stroke="#8f8f8f" stroke-width="4.5" stroke-linecap="round" opacity="0.35" filter="url(#b1)"/>
<line x1="268" y1="800" x2="222" y2="880" stroke="#8f8f8f" stroke-width="4.5" stroke-linecap="round" opacity="0.35" filter="url(#b1)"/>
<line x1="340" y1="850" x2="300" y2="940" stroke="#8f8f8f" stroke-width="4.5" stroke-linecap="round" opacity="0.35" filter="url(#b1)"/>
<line x1="190" y1="930" x2="160" y2="990" stroke="#8f8f8f" stroke-width="6" stroke-linecap="round" opacity="0.4" filter="url(#b1)"/>
<line x1="130" y1="700" x2="100" y2="750" stroke="#8f8f8f" stroke-width="5" stroke-linecap="round" opacity="0.3" filter="url(#b1)"/>
<line x1="250" y1="660" x2="200" y2="755" stroke="#8f8f8f" stroke-width="5" stroke-linecap="round" opacity="0.3" filter="url(#b1)"/>
<line x1="300" y1="560" x2="270" y2="610" stroke="#8f8f8f" stroke-width="5" stroke-linecap="round" opacity="0.3" filter="url(#b1)"/>
<g filter="url(#b3)"><ellipse cx="142.2" cy="609.5" rx="29.5" ry="29" fill="#b2b2b2"/><ellipse cx="188" cy="668.5" rx="25.5" ry="26.5" fill="#b2b2b2"/><ellipse cx="319" cy="687" rx="33.5" ry="36.5" fill="#b2b2b2" transform="rotate(15 319 687)"/><ellipse cx="287" cy="728" rx="27.5" ry="25.5" fill="#b2b2b2" transform="rotate(-20 287 728)"/><ellipse cx="304" cy="708" rx="26.5" ry="26.5" fill="#b2b2b2"/><ellipse cx="191" cy="543" rx="24.5" ry="10.5" fill="#b2b2b2"/><ellipse cx="366" cy="572" rx="11.5" ry="24.5" fill="#b2b2b2"/><ellipse cx="112" cy="783.5" rx="26.5" ry="23.5" fill="#b2b2b2"/><ellipse cx="177" cy="787" rx="18.5" ry="19.5" fill="#b2b2b2"/><ellipse cx="181" cy="867" rx="30" ry="46.5" fill="#b2b2b2" transform="rotate(-14 181 867)"/></g>
<g filter="url(#b4)" opacity="0.95"><ellipse cx="142.2" cy="609.5" rx="22" ry="21.5" fill="#e6e6e6"/><ellipse cx="188" cy="668.5" rx="18" ry="19" fill="#e6e6e6"/><ellipse cx="319" cy="687" rx="26" ry="29" fill="#e6e6e6" transform="rotate(15 319 687)"/><ellipse cx="287" cy="728" rx="20" ry="18" fill="#e6e6e6" transform="rotate(-20 287 728)"/><ellipse cx="304" cy="708" rx="19" ry="19" fill="#e6e6e6"/><ellipse cx="191" cy="543" rx="17" ry="3" fill="#e6e6e6"/><ellipse cx="366" cy="572" rx="4" ry="17" fill="#e6e6e6"/><ellipse cx="112" cy="783.5" rx="19" ry="16" fill="#e6e6e6"/><ellipse cx="177" cy="787" rx="11" ry="12" fill="#e6e6e6"/><ellipse cx="181" cy="867" rx="22.5" ry="39" fill="#e6e6e6" transform="rotate(-14 181 867)"/></g>
<ellipse cx="110" cy="781" rx="12" ry="10" fill="#ffffff" opacity="0.8" filter="url(#b4)"/>
<ellipse cx="366" cy="735" rx="5" ry="14" fill="#9e9e9e" opacity="0.6" filter="url(#b3)"/></g></g></g>
<line x1="103" y1="695.4" x2="239.8" y2="662" stroke="#fff" stroke-width="2.7" stroke-linecap="round"/>
<polygon points="250.5,659.4 239.1,667.5 236.6,657.4" fill="#fff"/>
<line x1="105.4" y1="975.9" x2="323.5" y2="975.9" stroke="#fff" stroke-width="2.7" stroke-linecap="round"/>
<polygon points="334.5,975.9 321.5,981.1 321.5,970.7" fill="#fff"/>
<text x="127.8" y="681" text-anchor="middle" style="font-family:'Liberation Serif', 'Times New Roman', serif;font-size:23px;fill:#f1f1f1;stroke:#2a2a2a;stroke-width:1.9px;stroke-linejoin:round;paint-order:stroke">1</text>
<text x="128.3" y="968.5" text-anchor="middle" style="font-family:'Liberation Serif', 'Times New Roman', serif;font-size:23px;fill:#f1f1f1;stroke:#2a2a2a;stroke-width:1.9px;stroke-linejoin:round;paint-order:stroke">2</text>
<circle cx="299.5" cy="971" r="31" fill="none" stroke="#444" stroke-width="2.6" stroke-dasharray="8.5 4.2"/>
<circle cx="299.5" cy="971" r="31" fill="none" stroke="#e9e9e9" stroke-width="1.5" stroke-dasharray="7.5 5.2" stroke-dashoffset="-0.5"/>
<g clip-path="url(#clipB)"><rect x="490" y="60" width="420" height="400" fill="#c63a14"/>
<ellipse cx="780" cy="150" rx="90" ry="40" fill="#8e2a10" opacity="0.55" transform="rotate(15 780 150)" filter="url(#b9)"/>
<ellipse cx="640" cy="150" rx="30" ry="40" fill="#6a3a18" opacity="0.5" transform="rotate(-30 640 150)" filter="url(#b6)"/>
<ellipse cx="585" cy="345" rx="70" ry="28" fill="#c89a58" opacity="0.55" transform="rotate(15 585 345)" filter="url(#b9)"/>
<ellipse cx="560" cy="300" rx="30" ry="30" fill="#b06a38" opacity="0.4" filter="url(#b9)"/>
<ellipse cx="740" cy="380" rx="50" ry="30" fill="#b48448" opacity="0.4" transform="rotate(20 740 380)" filter="url(#b9)"/>
<ellipse cx="700" cy="330" rx="60" ry="22" fill="#d0481a" opacity="0.5" transform="rotate(-25 700 330)" filter="url(#b9)"/>
<line x1="806" y1="208" x2="690" y2="270" stroke="#b08a50" stroke-width="9" stroke-linecap="round" opacity="0.55" filter="url(#b3)"/>
<line x1="780" y1="240" x2="690" y2="310" stroke="#b08a50" stroke-width="9" stroke-linecap="round" opacity="0.5" filter="url(#b3)"/>
<line x1="700" y1="195" x2="640" y2="230" stroke="#b08a50" stroke-width="8" stroke-linecap="round" opacity="0.45" filter="url(#b3)"/>
<line x1="840" y1="250" x2="760" y2="330" stroke="#b08a50" stroke-width="9" stroke-linecap="round" opacity="0.4" filter="url(#b3)"/>
<line x1="720" y1="330" x2="640" y2="390" stroke="#b08a50" stroke-width="10" stroke-linecap="round" opacity="0.45" filter="url(#b3)"/>
<line x1="800" y1="330" x2="770" y2="400" stroke="#b08a50" stroke-width="9" stroke-linecap="round" opacity="0.4" filter="url(#b3)"/>
<line x1="650" y1="170" x2="610" y2="200" stroke="#b08a50" stroke-width="10" stroke-linecap="round" opacity="0.5" filter="url(#b3)"/>
<line x1="690" y1="300" x2="600" y2="350" stroke="#b08a50" stroke-width="9" stroke-linecap="round" opacity="0.4" filter="url(#b3)"/>
<ellipse cx="855" cy="170" rx="25" ry="14" fill="#74240e" opacity="0.5" transform="rotate(10 855 170)" filter="url(#b4)"/>
<ellipse cx="600" cy="270" rx="14" ry="30" fill="#7a2a10" opacity="0.45" transform="rotate(25 600 270)" filter="url(#b4)"/>
<rect x="390" y="-40" width="620" height="600" filter="url(#nB3)" transform="rotate(-28 700 270)"/>
<rect x="390" y="-40" width="620" height="600" filter="url(#nB1)"/>
<rect x="390" y="-40" width="620" height="600" filter="url(#nB2)"/>
<g opacity="0.9" filter="url(#b05)"><path d="M600.9 319.5Q598.4 313.3 597.3 307.1L597.6 319.5Z" fill="#7c6134"/><path d="M593.7 319.5Q596.4 312.7 597.3 307.1L597.6 319.5Z" fill="#c8a868"/></g><g opacity="0.9" filter="url(#b05)"><path d="M575.8 326.8Q573.6 321.8 572.6 316.7L572.9 326.8Z" fill="#72582c"/><path d="M569.3 326.8Q571.8 321.3 572.6 316.7L572.9 326.8Z" fill="#b89858"/></g><g opacity="0.9" filter="url(#b05)"><path d="M605.6 331.5Q603.1 320 601.9 308.4L602.3 331.5Z" fill="#72582c"/><path d="M598.3 331.5Q601.1 318.8 601.9 308.4L602.3 331.5Z" fill="#b89858"/></g><g opacity="0.9" filter="url(#b05)"><path d="M552.4 332.2Q550.3 327.1 549.4 322.1L549.7 332.2Z" fill="#7c6134"/><path d="M546.3 332.2Q548.6 326.6 549.4 322.1L549.7 332.2Z" fill="#c8a868"/></g><g opacity="0.9" filter="url(#b05)"><path d="M530.9 334.1Q527.9 323.5 526.5 312.9L526.9 334.1Z" fill="#685026"/><path d="M522.1 334.1Q525.4 322.4 526.5 312.9L526.9 334.1Z" fill="#a88a4c"/></g><g opacity="0.9" filter="url(#b05)"><path d="M585.9 334.1Q583 328.5 581.7 322.8L582.1 334.1Z" fill="#7c6134"/><path d="M577.4 334.1Q580.7 327.9 581.7 322.8L582.1 334.1Z" fill="#c8a868"/></g><g opacity="0.9" filter="url(#b05)"><path d="M537.8 337.8Q535.7 325.9 534.6 314L534.9 337.8Z" fill="#72582c"/><path d="M531.4 337.8Q533.9 324.7 534.6 314L534.9 337.8Z" fill="#b89858"/></g><g opacity="0.9" filter="url(#b05)"><path d="M535.9 340.3Q533.2 331.7 531.9 323.1L532.3 340.3Z" fill="#685026"/><path d="M527.9 340.3Q530.9 330.9 531.9 323.1L532.3 340.3Z" fill="#a88a4c"/></g><g opacity="0.9" filter="url(#b05)"><path d="M531.6 341.5Q529.5 336.3 528.6 331L528.9 341.5Z" fill="#7c6134"/><path d="M525.5 341.5Q527.8 335.8 528.6 331L528.9 341.5Z" fill="#c8a868"/></g><g opacity="0.9" filter="url(#b05)"><path d="M587 347.3Q584.9 342.3 583.9 337.3L584.2 347.3Z" fill="#72582c"/><path d="M580.9 347.3Q583.2 341.8 583.9 337.3L584.2 347.3Z" fill="#b89858"/></g><g opacity="0.9" filter="url(#b05)"><path d="M605.9 348.9Q603.2 340.3 601.9 331.8L602.3 348.9Z" fill="#685026"/><path d="M597.8 348.9Q600.9 339.5 601.9 331.8L602.3 348.9Z" fill="#a88a4c"/></g><g opacity="0.9" filter="url(#b05)"><path d="M605.4 349.6Q602.5 343.9 601.2 338.3L601.6 349.6Z" fill="#685026"/><path d="M596.9 349.6Q600.1 343.4 601.2 338.3L601.6 349.6Z" fill="#a88a4c"/></g><g opacity="0.9" filter="url(#b05)"><path d="M564.6 350.1Q561.5 343 560 335.8L560.5 350.1Z" fill="#83693b"/><path d="M555.5 350.1Q558.9 342.3 560 335.8L560.5 350.1Z" fill="#d4b676"/></g><g opacity="0.9" filter="url(#b05)"><path d="M637.8 351.1Q635.6 345 634.6 338.9L634.9 351.1Z" fill="#7c6134"/><path d="M631.4 351.1Q633.8 344.4 634.6 338.9L634.9 351.1Z" fill="#c8a868"/></g><g opacity="0.9" filter="url(#b05)"><path d="M546.7 353.8Q543.6 342.3 542.1 330.9L542.5 353.8Z" fill="#685026"/><path d="M537.5 353.8Q541 341.2 542.1 330.9L542.5 353.8Z" fill="#a88a4c"/></g><g opacity="0.9" filter="url(#b05)"><path d="M582.8 357.7Q579.6 348.2 578.1 338.7L578.6 357.7Z" fill="#7c6134"/><path d="M573.4 357.7Q577 347.2 578.1 338.7L578.6 357.7Z" fill="#c8a868"/></g><g opacity="0.9" filter="url(#b05)"><path d="M668.5 357.9Q665.7 350.5 664.4 343L664.8 357.9Z" fill="#685026"/><path d="M660.3 357.9Q663.4 349.7 664.4 343L664.8 357.9Z" fill="#a88a4c"/></g><g opacity="0.9" filter="url(#b05)"><path d="M630 358.1Q627.1 353 625.8 347.9L626.2 358.1Z" fill="#83693b"/><path d="M621.6 358.1Q624.8 352.5 625.8 347.9L626.2 358.1Z" fill="#d4b676"/></g><g opacity="0.9" filter="url(#b05)"><path d="M650.7 359.1Q647.6 351.8 646.2 344.4L646.6 359.1Z" fill="#685026"/><path d="M641.7 359.1Q645.1 351 646.2 344.4L646.6 359.1Z" fill="#a88a4c"/></g><g opacity="0.9" filter="url(#b05)"><path d="M565.2 362Q562.9 350.9 561.8 339.9L562.1 362Z" fill="#72582c"/><path d="M558.4 362Q561 349.8 561.8 339.9L562.1 362Z" fill="#b89858"/></g><g opacity="0.9" filter="url(#b05)"><path d="M594.3 362.3Q590.9 350.3 589.3 338.3L589.8 362.3Z" fill="#685026"/><path d="M584.3 362.3Q588.1 349.1 589.3 338.3L589.8 362.3Z" fill="#a88a4c"/></g><g opacity="0.9" filter="url(#b05)"><path d="M577.1 363Q574.4 357.9 573.1 352.9L573.5 363Z" fill="#685026"/><path d="M569 363Q572.1 357.4 573.1 352.9L573.5 363Z" fill="#a88a4c"/></g><g opacity="0.9" filter="url(#b05)"><path d="M572.4 364.1Q569.4 356.1 568.1 348.2L568.5 364.1Z" fill="#685026"/><path d="M563.7 364.1Q567 355.3 568.1 348.2L568.5 364.1Z" fill="#a88a4c"/></g><g opacity="0.9" filter="url(#b05)"><path d="M584.2 364.5Q582 352.8 581 341.1L581.4 364.5Z" fill="#7c6134"/><path d="M577.9 364.5Q580.3 351.7 581 341.1L581.4 364.5Z" fill="#c8a868"/></g><g opacity="0.9" filter="url(#b05)"><path d="M570.5 365Q567.5 359.1 566.2 353.2L566.6 365Z" fill="#7c6134"/><path d="M561.9 365Q565.1 358.5 566.2 353.2L566.6 365Z" fill="#c8a868"/></g><g opacity="0.9" filter="url(#b05)"><path d="M663.8 374.3Q660.6 369.3 659.2 364.2L659.6 374.3Z" fill="#83693b"/><path d="M654.5 374.3Q658 368.8 659.2 364.2L659.6 374.3Z" fill="#d4b676"/></g><g opacity="0.9" filter="url(#b05)"><path d="M798.9 265.8Q795.9 258.8 794.5 251.7L794.9 265.8Z" fill="#72582c"/><path d="M790.1 265.8Q793.4 258.1 794.5 251.7L794.9 265.8Z" fill="#b89858"/></g><g opacity="0.9" filter="url(#b05)"><path d="M747.8 283.2Q745.2 277.5 744 271.8L744.3 283.2Z" fill="#72582c"/><path d="M740.1 283.2Q743 276.9 744 271.8L744.3 283.2Z" fill="#b89858"/></g><g opacity="0.9" filter="url(#b05)"><path d="M748.1 297.4Q744.8 288.3 743.2 279.3L743.7 297.4Z" fill="#685026"/><path d="M738.4 297.4Q742.1 287.4 743.2 279.3L743.7 297.4Z" fill="#a88a4c"/></g><g opacity="0.9" filter="url(#b05)"><path d="M732.9 299.5Q730.7 292.1 729.7 284.7L730 299.5Z" fill="#72582c"/><path d="M726.5 299.5Q728.9 291.3 729.7 284.7L730 299.5Z" fill="#b89858"/></g><g opacity="0.9" filter="url(#b05)"><path d="M802.4 302.5Q799.2 297 797.7 291.5L798.2 302.5Z" fill="#685026"/><path d="M792.9 302.5Q796.5 296.5 797.7 291.5L798.2 302.5Z" fill="#a88a4c"/></g><g opacity="0.9" filter="url(#b05)"><path d="M752.1 308.7Q749.3 302.8 748 296.9L748.4 308.7Z" fill="#775c30"/><path d="M744 308.7Q747.1 302.2 748 296.9L748.4 308.7Z" fill="#c0a060"/></g><g opacity="0.9" filter="url(#b05)"><path d="M761.7 310.4Q759.1 304.8 757.9 299.2L758.3 310.4Z" fill="#72582c"/><path d="M754.1 310.4Q757 304.3 757.9 299.2L758.3 310.4Z" fill="#b89858"/></g><g opacity="0.9" filter="url(#b05)"><path d="M815.3 316.9Q812.8 309.8 811.6 302.7L812 316.9Z" fill="#685026"/><path d="M807.9 316.9Q810.7 309.1 811.6 302.7L812 316.9Z" fill="#a88a4c"/></g><g opacity="0.9" filter="url(#b05)"><path d="M713.8 319.5Q710.8 308.8 709.4 298.1L709.8 319.5Z" fill="#72582c"/><path d="M704.9 319.5Q708.3 307.7 709.4 298.1L709.8 319.5Z" fill="#b89858"/></g><g opacity="0.9" filter="url(#b05)"><path d="M792.1 323.5Q789.6 318.5 788.4 313.5L788.8 323.5Z" fill="#775c30"/><path d="M784.8 323.5Q787.6 318 788.4 313.5L788.8 323.5Z" fill="#c0a060"/></g><g opacity="0.9" filter="url(#b05)"><path d="M809.3 325.7Q806.6 318.6 805.4 311.5L805.8 325.7Z" fill="#775c30"/><path d="M801.4 325.7Q804.4 317.9 805.4 311.5L805.8 325.7Z" fill="#c0a060"/></g><g opacity="0.9" filter="url(#b05)"><path d="M724.1 329.4Q720.9 325 719.4 320.7L719.9 329.4Z" fill="#775c30"/><path d="M714.8 329.4Q718.3 324.6 719.4 320.7L719.9 329.4Z" fill="#c0a060"/></g><g opacity="0.9" filter="url(#b05)"><path d="M794.8 330.9Q792.5 325.1 791.4 319.2L791.8 330.9Z" fill="#72582c"/><path d="M788 330.9Q790.6 324.5 791.4 319.2L791.8 330.9Z" fill="#b89858"/></g><g opacity="0.9" filter="url(#b05)"><path d="M787.6 346.1Q784.7 335.5 783.4 324.9L783.8 346.1Z" fill="#775c30"/><path d="M779.2 346.1Q782.4 334.4 783.4 324.9L783.8 346.1Z" fill="#c0a060"/></g><g opacity="0.9" filter="url(#b05)"><path d="M675.3 348.9Q672.3 344 670.8 339.1L671.3 348.9Z" fill="#775c30"/><path d="M666.4 348.9Q669.8 343.5 670.8 339.1L671.3 348.9Z" fill="#c0a060"/></g><g opacity="0.9" filter="url(#b05)"><path d="M748.5 350.6Q746.1 345.2 744.9 339.7L745.3 350.6Z" fill="#584320"/><path d="M741.3 350.6Q744 344.6 744.9 339.7L745.3 350.6Z" fill="#8e7440"/></g><g opacity="0.9" filter="url(#b05)"><path d="M706.6 352.3Q703.8 343.6 702.4 335L702.8 352.3Z" fill="#685026"/><path d="M698.3 352.3Q701.4 342.8 702.4 335L702.8 352.3Z" fill="#a88a4c"/></g><g opacity="0.9" filter="url(#b05)"><path d="M799.5 354.7Q796.8 350.7 795.5 346.7L795.9 354.7Z" fill="#584320"/><path d="M791.5 354.7Q794.6 350.3 795.5 346.7L795.9 354.7Z" fill="#8e7440"/></g><g opacity="0.9" filter="url(#b05)"><path d="M738.4 356.8Q735.6 348.9 734.4 341L734.8 356.8Z" fill="#775c30"/><path d="M730.3 356.8Q733.4 348.1 734.4 341L734.8 356.8Z" fill="#c0a060"/></g><g opacity="0.9" filter="url(#b05)"><path d="M742.6 361.1Q740.2 354.5 739.1 347.9L739.5 361.1Z" fill="#72582c"/><path d="M735.7 361.1Q738.3 353.8 739.1 347.9L739.5 361.1Z" fill="#b89858"/></g><g opacity="0.9" filter="url(#b05)"><path d="M737.2 364.3Q734.9 354.9 733.8 345.6L734.2 364.3Z" fill="#685026"/><path d="M730.5 364.3Q733.1 354 733.8 345.6L734.2 364.3Z" fill="#a88a4c"/></g><g opacity="0.9" filter="url(#b05)"><path d="M718.6 370.5Q716.4 366 715.3 361.5L715.7 370.5Z" fill="#685026"/><path d="M712 370.5Q714.5 365.6 715.3 361.5L715.7 370.5Z" fill="#a88a4c"/></g><g opacity="0.9" filter="url(#b05)"><path d="M632.7 152.6Q630.3 144.4 629.2 136.3L629.5 152.6Z" fill="#685026"/><path d="M625.6 152.6Q628.3 143.6 629.2 136.3L629.5 152.6Z" fill="#a88a4c"/></g><g opacity="0.9" filter="url(#b05)"><path d="M639 155.9Q636.4 149.5 635.2 143L635.6 155.9Z" fill="#4b381b"/><path d="M631.4 155.9Q634.3 148.8 635.2 143L635.6 155.9Z" fill="#7a6236"/></g><g opacity="0.9" filter="url(#b05)"><path d="M651.5 159.7Q649 154.2 647.8 148.7L648.1 159.7Z" fill="#4b381b"/><path d="M644.1 159.7Q646.9 153.7 647.8 148.7L648.1 159.7Z" fill="#7a6236"/></g><g opacity="0.9" filter="url(#b05)"><path d="M624.5 161.1Q621.5 152.6 620.1 144.1L620.5 161.1Z" fill="#584320"/><path d="M615.7 161.1Q619.1 151.7 620.1 144.1L620.5 161.1Z" fill="#8e7440"/></g><g opacity="0.9" filter="url(#b05)"><path d="M676.6 164.8Q673.6 157.7 672.2 150.6L672.7 164.8Z" fill="#4b381b"/><path d="M667.9 164.8Q671.2 157 672.2 150.6L672.7 164.8Z" fill="#7a6236"/></g><g opacity="0.9" filter="url(#b05)"><path d="M665.3 173.4Q662.8 166.5 661.6 159.7L662 173.4Z" fill="#584320"/><path d="M657.9 173.4Q660.7 165.9 661.6 159.7L662 173.4Z" fill="#8e7440"/></g><g opacity="0.9" filter="url(#b05)"><path d="M669.8 179.1Q666.9 172.1 665.6 165.1L666 179.1Z" fill="#4b381b"/><path d="M661.3 179.1Q664.5 171.4 665.6 165.1L666 179.1Z" fill="#7a6236"/></g><g opacity="0.9" filter="url(#b05)"><path d="M669.9 184.1Q667.5 178.4 666.4 172.7L666.8 184.1Z" fill="#4b381b"/><path d="M663 184.1Q665.6 177.9 666.4 172.7L666.8 184.1Z" fill="#7a6236"/></g><g opacity="0.9" filter="url(#b05)"><path d="M682.6 198.3Q679.8 190.3 678.5 182.3L678.9 198.3Z" fill="#584320"/><path d="M674.5 198.3Q677.6 189.5 678.5 182.3L678.9 198.3Z" fill="#8e7440"/></g><g opacity="0.9" filter="url(#b05)"><path d="M681.4 200.6Q679 196 677.8 191.4L678.2 200.6Z" fill="#4b381b"/><path d="M674.2 200.6Q677 195.5 677.8 191.4L678.2 200.6Z" fill="#7a6236"/></g><g opacity="0.9" filter="url(#b05)"><path d="M628.2 215.7Q625.4 211.4 624 207.1L624.4 215.7Z" fill="#584320"/><path d="M619.9 215.7Q623 211 624 207.1L624.4 215.7Z" fill="#8e7440"/></g><g opacity="0.9" filter="url(#b05)"><path d="M648.3 216.2Q646 212.2 645 208.2L645.3 216.2Z" fill="#685026"/><path d="M641.6 216.2Q644.2 211.8 645 208.2L645.3 216.2Z" fill="#a88a4c"/></g><g opacity="0.9" filter="url(#b05)"><path d="M666.6 221.7Q663.8 217.2 662.5 212.7L662.9 221.7Z" fill="#685026"/><path d="M658.5 221.7Q661.6 216.8 662.5 212.7L662.9 221.7Z" fill="#a88a4c"/></g><g opacity="0.9" filter="url(#b05)"><path d="M655.3 225.1Q653.2 219.4 652.3 213.6L652.6 225.1Z" fill="#685026"/><path d="M649.2 225.1Q651.5 218.8 652.3 213.6L652.6 225.1Z" fill="#a88a4c"/></g><g opacity="0.9" filter="url(#b05)"><path d="M755.3 143.2Q753.6 139.1 752.8 134.9L753 143.2Z" fill="#583d1d"/><path d="M750.3 143.2Q752.2 138.7 752.8 134.9L753 143.2Z" fill="#8e6a3a"/></g><g opacity="0.9" filter="url(#b05)"><path d="M856 149.2Q853.4 143.6 852.2 138L852.6 149.2Z" fill="#583d1d"/><path d="M848.5 149.2Q851.3 143 852.2 138L852.6 149.2Z" fill="#8e6a3a"/></g><g opacity="0.9" filter="url(#b05)"><path d="M860.6 153.5Q858.1 149.1 857 144.7L857.3 153.5Z" fill="#4b2a14"/><path d="M853.3 153.5Q856.1 148.7 857 144.7L857.3 153.5Z" fill="#7a4a28"/></g><g opacity="0.9" filter="url(#b05)"><path d="M808.6 154.3Q806.8 149.4 805.9 144.5L806.2 154.3Z" fill="#583d1d"/><path d="M803.2 154.3Q805.3 148.9 805.9 144.5L806.2 154.3Z" fill="#8e6a3a"/></g><g opacity="0.9" filter="url(#b05)"><path d="M817.4 160.1Q815 155 813.9 149.8L814.2 160.1Z" fill="#4b2a14"/><path d="M810.4 160.1Q813 154.4 813.9 149.8L814.2 160.1Z" fill="#7a4a28"/></g><g opacity="0.9" filter="url(#b05)"><path d="M797.1 181.9Q794.9 178 793.8 174.2L794.2 181.9Z" fill="#41210e"/><path d="M790.6 181.9Q793.1 177.7 793.8 174.2L794.2 181.9Z" fill="#6a3a1c"/></g><g opacity="0.9" filter="url(#b05)"><path d="M782.9 185.5Q780.6 177.9 779.6 170.4L779.9 185.5Z" fill="#4b2a14"/><path d="M776.3 185.5Q778.8 177.2 779.6 170.4L779.9 185.5Z" fill="#7a4a28"/></g><g opacity="0.9" filter="url(#b05)"><path d="M766.3 187.8Q763.8 180.6 762.7 173.3L763 187.8Z" fill="#4b2a14"/><path d="M759 187.8Q761.8 179.9 762.7 173.3L763 187.8Z" fill="#7a4a28"/></g><g opacity="0.9" filter="url(#b05)"><path d="M829.5 189.7Q826.8 185.7 825.6 181.7L826 189.7Z" fill="#583d1d"/><path d="M821.7 189.7Q824.7 185.3 825.6 181.7L826 189.7Z" fill="#8e6a3a"/></g><g opacity="0.9" filter="url(#b05)"><path d="M848.8 192.1Q846.6 187.6 845.5 183.1L845.8 192.1Z" fill="#4b2a14"/><path d="M842.1 192.1Q844.7 187.1 845.5 183.1L845.8 192.1Z" fill="#7a4a28"/></g><g opacity="0.9" filter="url(#b05)"><path d="M861.1 194.3Q858.8 188.7 857.7 183L858.1 194.3Z" fill="#4b2a14"/><path d="M854.3 194.3Q856.9 188.1 857.7 183L858.1 194.3Z" fill="#7a4a28"/></g><g opacity="0.9" filter="url(#b05)"><path d="M864 197.8Q862.2 194.2 861.4 190.7L861.7 197.8Z" fill="#4b2a14"/><path d="M858.7 197.8Q860.8 193.9 861.4 190.7L861.7 197.8Z" fill="#7a4a28"/></g><g opacity="0.9" filter="url(#b05)"><path d="M797.7 198.2Q795.6 194.6 794.6 191L794.9 198.2Z" fill="#583d1d"/><path d="M791.5 198.2Q793.9 194.2 794.6 191L794.9 198.2Z" fill="#8e6a3a"/></g><g opacity="0.9" filter="url(#b05)"><path d="M868.2 200.6Q865.7 196.1 864.5 191.5L864.9 200.6Z" fill="#583d1d"/><path d="M860.8 200.6Q863.6 195.6 864.5 191.5L864.9 200.6Z" fill="#8e6a3a"/></g><g opacity="0.9" filter="url(#b05)"><path d="M814.8 209.7Q812.5 203.7 811.4 197.7L811.8 209.7Z" fill="#41210e"/><path d="M808 209.7Q810.6 203.1 811.4 197.7L811.8 209.7Z" fill="#6a3a1c"/></g><g opacity="0.9" filter="url(#b05)"><path d="M862.9 226.3Q861.1 221.9 860.2 217.4L860.5 226.3Z" fill="#4b2a14"/><path d="M857.5 226.3Q859.5 221.4 860.2 217.4L860.5 226.3Z" fill="#7a4a28"/></g><g filter="url(#b1)"><ellipse cx="749.5" cy="103" rx="14.8" ry="15" fill="url(#gBdw)"/><ellipse cx="749.2" cy="101.8" rx="14.7" ry="15" fill="url(#gBdw)"/><ellipse cx="748.9" cy="100.6" rx="14.5" ry="15" fill="url(#gBdw)"/><ellipse cx="748.6" cy="99.4" rx="14.3" ry="15" fill="url(#gBdw)"/><ellipse cx="748.3" cy="98.2" rx="14.2" ry="15" fill="url(#gBdw)"/></g><ellipse cx="748" cy="97" rx="14" ry="15" fill="url(#gBd)" filter="url(#b1)"/><g filter="url(#b1)"><ellipse cx="695" cy="128" rx="22.3" ry="17" fill="url(#gBw)" transform="rotate(25 693.5 119)"/><ellipse cx="694.7" cy="126.2" rx="22" ry="17" fill="url(#gBw)" transform="rotate(25 693.5 119)"/><ellipse cx="694.4" cy="124.4" rx="21.8" ry="17" fill="url(#gBw)" transform="rotate(25 693.5 119)"/><ellipse cx="694.1" cy="122.6" rx="21.5" ry="17" fill="url(#gBw)" transform="rotate(25 693.5 119)"/><ellipse cx="693.8" cy="120.8" rx="21.3" ry="17" fill="url(#gBw)" transform="rotate(25 693.5 119)"/></g><ellipse cx="693.5" cy="119" rx="21" ry="17" fill="url(#gB)" transform="rotate(25 693.5 119)" filter="url(#b1)"/><g filter="url(#b1)"><ellipse cx="718.5" cy="164" rx="16.4" ry="17" fill="url(#gBw)" transform="rotate(10 717 155)"/><ellipse cx="718.2" cy="162.2" rx="16.2" ry="17" fill="url(#gBw)" transform="rotate(10 717 155)"/><ellipse cx="717.9" cy="160.4" rx="16.1" ry="17" fill="url(#gBw)" transform="rotate(10 717 155)"/><ellipse cx="717.6" cy="158.6" rx="15.9" ry="17" fill="url(#gBw)" transform="rotate(10 717 155)"/><ellipse cx="717.3" cy="156.8" rx="15.7" ry="17" fill="url(#gBw)" transform="rotate(10 717 155)"/></g><ellipse cx="717" cy="155" rx="15.5" ry="17" fill="url(#gB)" transform="rotate(10 717 155)" filter="url(#b1)"/><g filter="url(#b1)"><ellipse cx="619" cy="226" rx="18" ry="23" fill="url(#gBw)" transform="rotate(-10 617.5 214)"/><ellipse cx="618.7" cy="223.6" rx="17.8" ry="23" fill="url(#gBw)" transform="rotate(-10 617.5 214)"/><ellipse cx="618.4" cy="221.2" rx="17.6" ry="23" fill="url(#gBw)" transform="rotate(-10 617.5 214)"/><ellipse cx="618.1" cy="218.8" rx="17.4" ry="23" fill="url(#gBw)" transform="rotate(-10 617.5 214)"/><ellipse cx="617.8" cy="216.4" rx="17.2" ry="23" fill="url(#gBw)" transform="rotate(-10 617.5 214)"/></g><ellipse cx="617.5" cy="214" rx="17" ry="23" fill="url(#gB)" transform="rotate(-10 617.5 214)" filter="url(#b1)"/><g filter="url(#b1)"><ellipse cx="675.5" cy="238" rx="13.8" ry="15" fill="url(#gBw)"/><ellipse cx="675.2" cy="236.6" rx="13.6" ry="15" fill="url(#gBw)"/><ellipse cx="674.9" cy="235.2" rx="13.5" ry="15" fill="url(#gBw)"/><ellipse cx="674.6" cy="233.8" rx="13.3" ry="15" fill="url(#gBw)"/><ellipse cx="674.3" cy="232.4" rx="13.2" ry="15" fill="url(#gBw)"/></g><ellipse cx="674" cy="231" rx="13" ry="15" fill="url(#gB)" filter="url(#b1)"/><g filter="url(#b1)"><ellipse cx="652.5" cy="287" rx="23.3" ry="29" fill="url(#gBw)" transform="rotate(10 651 275)"/><ellipse cx="652.2" cy="284.6" rx="23.1" ry="29" fill="url(#gBw)" transform="rotate(10 651 275)"/><ellipse cx="651.9" cy="282.2" rx="22.8" ry="29" fill="url(#gBw)" transform="rotate(10 651 275)"/><ellipse cx="651.6" cy="279.8" rx="22.5" ry="29" fill="url(#gBw)" transform="rotate(10 651 275)"/><ellipse cx="651.3" cy="277.4" rx="22.3" ry="29" fill="url(#gBw)" transform="rotate(10 651 275)"/></g><ellipse cx="651" cy="275" rx="22" ry="29" fill="url(#gB)" transform="rotate(10 651 275)" filter="url(#b1)"/><g filter="url(#b1)"><ellipse cx="836.5" cy="206" rx="25.4" ry="21" fill="url(#gBw)"/><ellipse cx="836.2" cy="203.6" rx="25.2" ry="21" fill="url(#gBw)"/><ellipse cx="835.9" cy="201.2" rx="24.9" ry="21" fill="url(#gBw)"/><ellipse cx="835.6" cy="198.8" rx="24.6" ry="21" fill="url(#gBw)"/><ellipse cx="835.3" cy="196.4" rx="24.3" ry="21" fill="url(#gBw)"/></g><g filter="url(#b1)"><ellipse cx="801.5" cy="229" rx="26.5" ry="17" fill="url(#gBw)" transform="rotate(-15 800 217)"/><ellipse cx="801.2" cy="226.6" rx="26.2" ry="17" fill="url(#gBw)" transform="rotate(-15 800 217)"/><ellipse cx="800.9" cy="224.2" rx="25.9" ry="17" fill="url(#gBw)" transform="rotate(-15 800 217)"/><ellipse cx="800.6" cy="221.8" rx="25.6" ry="17" fill="url(#gBw)" transform="rotate(-15 800 217)"/><ellipse cx="800.3" cy="219.4" rx="25.3" ry="17" fill="url(#gBw)" transform="rotate(-15 800 217)"/></g><g filter="url(#b1)"><ellipse cx="819.5" cy="216" rx="23.3" ry="17" fill="url(#gBw)" transform="rotate(-20 818 204)"/><ellipse cx="819.2" cy="213.6" rx="23.1" ry="17" fill="url(#gBw)" transform="rotate(-20 818 204)"/><ellipse cx="818.9" cy="211.2" rx="22.8" ry="17" fill="url(#gBw)" transform="rotate(-20 818 204)"/><ellipse cx="818.6" cy="208.8" rx="22.5" ry="17" fill="url(#gBw)" transform="rotate(-20 818 204)"/><ellipse cx="818.3" cy="206.4" rx="22.3" ry="17" fill="url(#gBw)" transform="rotate(-20 818 204)"/></g><ellipse cx="835" cy="194" rx="24" ry="21" fill="url(#gB)" filter="url(#b1)"/><ellipse cx="800" cy="217" rx="25" ry="17" fill="url(#gB)" transform="rotate(-15 800 217)" filter="url(#b1)"/><ellipse cx="818" cy="204" rx="22" ry="17" fill="url(#gB)" transform="rotate(-20 818 204)" filter="url(#b1)"/><g opacity="1" filter="url(#b05)"><path d="M818 322Q813.9 293 812 264L812.6 322Z" fill="#554625"/><path d="M806 322Q810.6 290.1 812 264L812.6 322Z" fill="#8a7a4a"/></g><g opacity="1" filter="url(#b05)"><path d="M826.5 318Q823.4 300 822 282L822.5 318Z" fill="#63502a"/><path d="M817.5 318Q820.9 298.2 822 282L822.5 318Z" fill="#a08a55"/></g><g opacity="1" filter="url(#b05)"><path d="M807 318Q804.3 303 803 288L803.4 318Z" fill="#413118"/><path d="M799 318Q802 301.5 803 288L803.4 318Z" fill="#6a5630"/></g><g opacity="0.9" filter="url(#b05)"><path d="M692.5 418Q689.4 405 688 392L688.5 418Z" fill="#37210d"/><path d="M683.5 418Q686.9 403.7 688 392L688.5 418Z" fill="#5a3a1a"/></g></g>
<polyline points="505.7,385.2 777.5,467.4 897,167 906.2,92.3" fill="none" stroke="#8d9299" stroke-width="1.3" stroke-linejoin="round"/>
<line x1="505.7" y1="385.2" x2="502.5" y2="389.5" stroke="#8d9299" stroke-width="1.2"/>
<line x1="637.4" y1="425.3" x2="634.5" y2="431" stroke="#8d9299" stroke-width="1.2"/>
<line x1="777.5" y1="467.4" x2="776.5" y2="473.5" stroke="#8d9299" stroke-width="1.2"/>
<line x1="777.5" y1="467.4" x2="783" y2="468.5" stroke="#8d9299" stroke-width="1.2"/>
<line x1="844.8" y1="300.4" x2="850" y2="302" stroke="#8d9299" stroke-width="1.2"/>
<line x1="906.2" y1="92.3" x2="911" y2="92.3" stroke="#8d9299" stroke-width="1.2"/>
<line x1="900.9" y1="131.6" x2="905.6" y2="132.2" stroke="#8d9299" stroke-width="1.2"/>
<line x1="896.4" y1="167.2" x2="901" y2="167.8" stroke="#8d9299" stroke-width="1.2"/>
<text transform="translate(620.5 466.5) rotate(16.9)" text-anchor="middle" style="font-family:'Liberation Sans', Arial, sans-serif;font-size:16px;fill:#2e2e2e;font-style:italic" textLength="55" lengthAdjust="spacingAndGlyphs">5.6 µm</text>
<text transform="translate(876.5 306.5) rotate(-68.2)" text-anchor="middle" style="font-family:'Liberation Sans', Arial, sans-serif;font-size:16px;fill:#2e2e2e;font-style:italic" textLength="56" lengthAdjust="spacingAndGlyphs">8.9 µm</text>
<text transform="translate(931.2 104) rotate(0)" text-anchor="start" style="font-family:'Liberation Sans', Arial, sans-serif;font-size:16.5px;fill:#2e2e2e" textLength="64.8" lengthAdjust="spacingAndGlyphs">0.12 µm</text>
<text transform="translate(920 179.2) rotate(0)" text-anchor="start" style="font-family:'Liberation Sans', Arial, sans-serif;font-size:16.5px;fill:#2e2e2e" textLength="70.3" lengthAdjust="spacingAndGlyphs">-0.07 µm</text>
<g clip-path="url(#clipD)"><rect x="480" y="570" width="430" height="400" fill="#cc3c14"/>
<ellipse cx="790" cy="650" rx="80" ry="26" fill="#9a2c10" opacity="0.45" transform="rotate(15 790 650)" filter="url(#b9)"/>
<ellipse cx="690" cy="690" rx="50" ry="22" fill="#a83210" opacity="0.4" transform="rotate(10 690 690)" filter="url(#b9)"/>
<ellipse cx="560" cy="840" rx="60" ry="28" fill="#d0a060" opacity="0.6" transform="rotate(15 560 840)" filter="url(#b9)"/>
<ellipse cx="570" cy="760" rx="26" ry="40" fill="#c87840" opacity="0.5" transform="rotate(20 570 760)" filter="url(#b9)"/>
<ellipse cx="720" cy="890" rx="60" ry="30" fill="#cc9650" opacity="0.5" transform="rotate(20 720 890)" filter="url(#b9)"/>
<ellipse cx="800" cy="800" rx="30" ry="50" fill="#d08848" opacity="0.4" transform="rotate(20 800 800)" filter="url(#b9)"/>
<ellipse cx="700" cy="770" rx="40" ry="20" fill="#d85a28" opacity="0.4" transform="rotate(10 700 770)" filter="url(#b9)"/>
<ellipse cx="640" cy="690" rx="22" ry="14" fill="#6a2a10" opacity="0.5" filter="url(#b4)"/>
<line x1="760" y1="770" x2="690" y2="830" stroke="#c09050" stroke-width="12" stroke-linecap="round" opacity="0.4" filter="url(#b4)"/>
<line x1="700" y1="840" x2="640" y2="880" stroke="#c09050" stroke-width="12" stroke-linecap="round" opacity="0.45" filter="url(#b4)"/>
<line x1="820" y1="760" x2="780" y2="840" stroke="#c09050" stroke-width="12" stroke-linecap="round" opacity="0.35" filter="url(#b4)"/>
<rect x="380" y="470" width="630" height="600" filter="url(#nD3)" transform="rotate(-28 690 780)"/>
<rect x="380" y="470" width="630" height="600" filter="url(#nD1)"/>
<rect x="380" y="470" width="630" height="600" filter="url(#nD2)"/>
<g opacity="0.9" filter="url(#b05)"><path d="M597.9 794.4Q594.3 788.1 592.6 781.8L593.1 794.4Z" fill="#80592e"/><path d="M587.2 794.4Q591.3 787.4 592.6 781.8L593.1 794.4Z" fill="#d09a5c"/></g><g opacity="0.9" filter="url(#b05)"><path d="M593.8 802.6Q591.4 791.7 590.2 780.9L590.6 802.6Z" fill="#7c6134"/><path d="M586.7 802.6Q589.4 790.6 590.2 780.9L590.6 802.6Z" fill="#c8a868"/></g><g opacity="0.9" filter="url(#b05)"><path d="M593.8 810.1Q591 801.7 589.6 793.3L590.1 810.1Z" fill="#8a7144"/><path d="M585.5 810.1Q588.6 800.8 589.6 793.3L590.1 810.1Z" fill="#e0c488"/></g><g opacity="0.9" filter="url(#b05)"><path d="M604.9 817.4Q601.3 807.1 599.7 796.9L600.2 817.4Z" fill="#856a3c"/><path d="M594.4 817.4Q598.4 806.1 599.7 796.9L600.2 817.4Z" fill="#d8b878"/></g><g opacity="0.9" filter="url(#b05)"><path d="M621.6 821.5Q617.7 815.5 615.9 809.5L616.5 821.5Z" fill="#7c6134"/><path d="M610.2 821.5Q614.5 814.9 615.9 809.5L616.5 821.5Z" fill="#c8a868"/></g><g opacity="0.9" filter="url(#b05)"><path d="M543.8 826.2Q540.9 815.4 539.5 804.5L539.9 826.2Z" fill="#80592e"/><path d="M535.3 826.2Q538.5 814.3 539.5 804.5L539.9 826.2Z" fill="#d09a5c"/></g><g opacity="0.9" filter="url(#b05)"><path d="M618.4 827.2Q614.4 820.6 612.5 814L613.1 827.2Z" fill="#80592e"/><path d="M606.7 827.2Q611.1 819.9 612.5 814L613.1 827.2Z" fill="#d09a5c"/></g><g opacity="0.9" filter="url(#b05)"><path d="M555.4 828.2Q552.1 817.3 550.5 806.4L551 828.2Z" fill="#80592e"/><path d="M545.7 828.2Q549.4 816.2 550.5 806.4L551 828.2Z" fill="#d09a5c"/></g><g opacity="0.9" filter="url(#b05)"><path d="M577.5 831.5Q573.6 826.4 571.7 821.2L572.3 831.5Z" fill="#8a7144"/><path d="M565.9 831.5Q570.3 825.8 571.7 821.2L572.3 831.5Z" fill="#e0c488"/></g><g opacity="0.9" filter="url(#b05)"><path d="M574.7 835.1Q571.1 826.4 569.4 817.7L569.9 835.1Z" fill="#7c6134"/><path d="M564.1 835.1Q568.1 825.6 569.4 817.7L569.9 835.1Z" fill="#c8a868"/></g><g opacity="0.9" filter="url(#b05)"><path d="M624.5 839.4Q621.7 829.8 620.4 820.1L620.8 839.4Z" fill="#80592e"/><path d="M616.3 839.4Q619.4 828.8 620.4 820.1L620.8 839.4Z" fill="#d09a5c"/></g><g opacity="0.9" filter="url(#b05)"><path d="M572.8 839.5Q569.1 834.4 567.3 829.4L567.9 839.5Z" fill="#856a3c"/><path d="M561.8 839.5Q566 833.9 567.3 829.4L567.9 839.5Z" fill="#d8b878"/></g><g opacity="0.9" filter="url(#b05)"><path d="M585.1 847.1Q582.5 839.9 581.2 832.6L581.6 847.1Z" fill="#8a7144"/><path d="M577.3 847.1Q580.3 839.1 581.2 832.6L581.6 847.1Z" fill="#e0c488"/></g><g opacity="0.9" filter="url(#b05)"><path d="M542.1 847.4Q539.4 840.4 538.1 833.3L538.5 847.4Z" fill="#8a7144"/><path d="M534.1 847.4Q537.1 839.7 538.1 833.3L538.5 847.4Z" fill="#e0c488"/></g><g opacity="0.9" filter="url(#b05)"><path d="M513.9 852.7Q510.8 846.6 509.3 840.4L509.8 852.7Z" fill="#80592e"/><path d="M504.7 852.7Q508.2 845.9 509.3 840.4L509.8 852.7Z" fill="#d09a5c"/></g><g opacity="0.9" filter="url(#b05)"><path d="M642.2 854.4Q639.4 848.2 638 841.9L638.4 854.4Z" fill="#7c6134"/><path d="M633.8 854.4Q637 847.6 638 841.9L638.4 854.4Z" fill="#c8a868"/></g><g opacity="0.9" filter="url(#b05)"><path d="M563.3 855Q560.4 851 559.1 847L559.5 855Z" fill="#8a7144"/><path d="M554.8 855Q558.1 850.6 559.1 847L559.5 855Z" fill="#e0c488"/></g><g opacity="0.9" filter="url(#b05)"><path d="M624.7 857.7Q621.8 848.6 620.4 839.6L620.8 857.7Z" fill="#856a3c"/><path d="M616.1 857.7Q619.4 847.7 620.4 839.6L620.8 857.7Z" fill="#d8b878"/></g><g opacity="0.9" filter="url(#b05)"><path d="M583.7 858Q580.4 847.2 578.9 836.4L579.4 858Z" fill="#80592e"/><path d="M574.1 858Q577.7 846.1 578.9 836.4L579.4 858Z" fill="#d09a5c"/></g><g opacity="0.9" filter="url(#b05)"><path d="M568.9 863.1Q564.8 858.9 562.9 854.7L563.5 863.1Z" fill="#80592e"/><path d="M557 863.1Q561.5 858.5 562.9 854.7L563.5 863.1Z" fill="#d09a5c"/></g><g opacity="0.9" filter="url(#b05)"><path d="M551.5 865.4Q548.6 860.6 547.3 855.8L547.7 865.4Z" fill="#80592e"/><path d="M543 865.4Q546.2 860.1 547.3 855.8L547.7 865.4Z" fill="#d09a5c"/></g><g opacity="0.9" filter="url(#b05)"><path d="M621 866.3Q617.7 859.1 616.1 851.9L616.6 866.3Z" fill="#8a7144"/><path d="M611.3 866.3Q615 858.4 616.1 851.9L616.6 866.3Z" fill="#e0c488"/></g><g opacity="0.9" filter="url(#b05)"><path d="M539.7 869.7Q537.2 865.6 536.1 861.5L536.4 869.7Z" fill="#7c6134"/><path d="M532.4 869.7Q535.2 865.2 536.1 861.5L536.4 869.7Z" fill="#c8a868"/></g><g opacity="0.9" filter="url(#b05)"><path d="M567.3 871.1Q564.1 865.6 562.6 860.1L563 871.1Z" fill="#8a7144"/><path d="M557.9 871.1Q561.5 865 562.6 860.1L563 871.1Z" fill="#e0c488"/></g><g opacity="0.9" filter="url(#b05)"><path d="M620.9 871.6Q617.8 867.4 616.4 863.2L616.8 871.6Z" fill="#80592e"/><path d="M611.8 871.6Q615.3 867 616.4 863.2L616.8 871.6Z" fill="#d09a5c"/></g><g opacity="0.9" filter="url(#b05)"><path d="M575.9 872.1Q572 867.2 570.2 862.4L570.8 872.1Z" fill="#856a3c"/><path d="M564.5 872.1Q568.8 866.8 570.2 862.4L570.8 872.1Z" fill="#d8b878"/></g><g opacity="0.9" filter="url(#b05)"><path d="M568 872.7Q565.4 868.6 564.2 864.6L564.6 872.7Z" fill="#7c6134"/><path d="M560.5 872.7Q563.3 868.2 564.2 864.6L564.6 872.7Z" fill="#c8a868"/></g><g opacity="0.9" filter="url(#b05)"><path d="M628.5 880.9Q624.7 876.7 623 872.5L623.5 880.9Z" fill="#856a3c"/><path d="M617.5 880.9Q621.7 876.3 623 872.5L623.5 880.9Z" fill="#d8b878"/></g><g opacity="0.9" filter="url(#b05)"><path d="M683 885.7Q679.4 873.7 677.7 861.8L678.2 885.7Z" fill="#7c6134"/><path d="M672.4 885.7Q676.4 872.5 677.7 861.8L678.2 885.7Z" fill="#c8a868"/></g><g opacity="0.9" filter="url(#b05)"><path d="M649.5 886.3Q647 880.1 645.8 873.9L646.2 886.3Z" fill="#8a7144"/><path d="M642.1 886.3Q644.9 879.5 645.8 873.9L646.2 886.3Z" fill="#e0c488"/></g><g opacity="0.9" filter="url(#b05)"><path d="M747.6 819.5Q744.4 813 742.9 806.5L743.4 819.5Z" fill="#805c30"/><path d="M738.1 819.5Q741.7 812.3 742.9 806.5L743.4 819.5Z" fill="#d0a060"/></g><g opacity="0.9" filter="url(#b05)"><path d="M795.5 823.5Q792.4 814.8 791 806.1L791.5 823.5Z" fill="#8a6638"/><path d="M786.6 823.5Q789.9 813.9 791 806.1L791.5 823.5Z" fill="#e0b070"/></g><g opacity="0.9" filter="url(#b05)"><path d="M712.7 828.4Q708.9 821 707.1 813.7L707.7 828.4Z" fill="#725026"/><path d="M701.5 828.4Q705.8 820.3 707.1 813.7L707.7 828.4Z" fill="#b88a4c"/></g><g opacity="0.9" filter="url(#b05)"><path d="M786.6 833.3Q783.4 826.3 781.8 819.3L782.3 833.3Z" fill="#725026"/><path d="M777.1 833.3Q780.7 825.6 781.8 819.3L782.3 833.3Z" fill="#b88a4c"/></g><g opacity="0.9" filter="url(#b05)"><path d="M786.9 835.4Q783.9 831.3 782.5 827.3L782.9 835.4Z" fill="#7c6134"/><path d="M778 835.4Q781.4 830.9 782.5 827.3L782.9 835.4Z" fill="#c8a868"/></g><g opacity="0.9" filter="url(#b05)"><path d="M757.7 837.7Q754.8 833.6 753.5 829.6L753.9 837.7Z" fill="#8a6638"/><path d="M749.3 837.7Q752.5 833.2 753.5 829.6L753.9 837.7Z" fill="#e0b070"/></g><g opacity="0.9" filter="url(#b05)"><path d="M750.9 839.2Q747.2 832.6 745.5 826L746 839.2Z" fill="#725026"/><path d="M740.1 839.2Q744.2 831.9 745.5 826L746 839.2Z" fill="#b88a4c"/></g><g opacity="0.9" filter="url(#b05)"><path d="M747.5 839.5Q744.5 830.9 743 822.4L743.5 839.5Z" fill="#805c30"/><path d="M738.6 839.5Q742 830.1 743 822.4L743.5 839.5Z" fill="#d0a060"/></g><g opacity="0.9" filter="url(#b05)"><path d="M733.7 839.6Q730.3 829.8 728.6 820L729.2 839.6Z" fill="#805c30"/><path d="M723.6 839.6Q727.4 828.8 728.6 820L729.2 839.6Z" fill="#d0a060"/></g><g opacity="0.9" filter="url(#b05)"><path d="M769.5 843.9Q766.2 836.2 764.7 828.4L765.2 843.9Z" fill="#7c6134"/><path d="M759.9 843.9Q763.6 835.4 764.7 828.4L765.2 843.9Z" fill="#c8a868"/></g><g opacity="0.9" filter="url(#b05)"><path d="M697.5 844.1Q695 835.6 693.7 827L694.1 844.1Z" fill="#8a6638"/><path d="M689.9 844.1Q692.8 834.7 693.7 827L694.1 844.1Z" fill="#e0b070"/></g><g opacity="0.9" filter="url(#b05)"><path d="M722.7 847.9Q718.8 843.6 716.9 839.3L717.5 847.9Z" fill="#8a6638"/><path d="M711 847.9Q715.5 843.2 716.9 839.3L717.5 847.9Z" fill="#e0b070"/></g><g opacity="0.9" filter="url(#b05)"><path d="M763 849.5Q760.2 841.4 758.9 833.3L759.3 849.5Z" fill="#7c6134"/><path d="M754.8 849.5Q757.9 840.6 758.9 833.3L759.3 849.5Z" fill="#c8a868"/></g><g opacity="0.9" filter="url(#b05)"><path d="M714.2 849.8Q710.9 845.4 709.3 841L709.8 849.8Z" fill="#7c6134"/><path d="M704.4 849.8Q708.2 845 709.3 841L709.8 849.8Z" fill="#c8a868"/></g><g opacity="0.9" filter="url(#b05)"><path d="M777.8 862.7Q774.4 852.9 772.8 843.2L773.3 862.7Z" fill="#8a6638"/><path d="M767.8 862.7Q771.6 852 772.8 843.2L773.3 862.7Z" fill="#e0b070"/></g><g opacity="0.9" filter="url(#b05)"><path d="M696.5 865.4Q693.7 860.2 692.4 855L692.8 865.4Z" fill="#805c30"/><path d="M688.4 865.4Q691.4 859.6 692.4 855L692.8 865.4Z" fill="#d0a060"/></g><g opacity="0.9" filter="url(#b05)"><path d="M697.9 867.2Q694.1 859.8 692.3 852.5L692.9 867.2Z" fill="#8a6638"/><path d="M686.8 867.2Q691 859.1 692.3 852.5L692.9 867.2Z" fill="#e0b070"/></g><g opacity="0.9" filter="url(#b05)"><path d="M727.1 868.2Q723.9 863.6 722.4 859L722.9 868.2Z" fill="#7c6134"/><path d="M717.8 868.2Q721.3 863.1 722.4 859L722.9 868.2Z" fill="#c8a868"/></g><g opacity="0.9" filter="url(#b05)"><path d="M738.2 870Q734.5 863.3 732.7 856.6L733.2 870Z" fill="#725026"/><path d="M727.2 870Q731.4 862.6 732.7 856.6L733.2 870Z" fill="#b88a4c"/></g><g opacity="0.9" filter="url(#b05)"><path d="M781.3 876.3Q778.8 872.2 777.5 868.2L777.9 876.3Z" fill="#7c6134"/><path d="M773.8 876.3Q776.6 871.8 777.5 868.2L777.9 876.3Z" fill="#c8a868"/></g><g opacity="0.9" filter="url(#b05)"><path d="M718.6 876.7Q715 866.8 713.3 856.8L713.8 876.7Z" fill="#7c6134"/><path d="M707.9 876.7Q712 865.8 713.3 856.8L713.8 876.7Z" fill="#c8a868"/></g><g opacity="0.9" filter="url(#b05)"><path d="M709.8 877.7Q705.8 871.9 703.9 866.1L704.5 877.7Z" fill="#805c30"/><path d="M698.1 877.7Q702.5 871.3 703.9 866.1L704.5 877.7Z" fill="#d0a060"/></g><g opacity="0.9" filter="url(#b05)"><path d="M721.9 895.2Q719.3 888.5 718.1 881.9L718.5 895.2Z" fill="#725026"/><path d="M714.3 895.2Q717.2 887.9 718.1 881.9L718.5 895.2Z" fill="#b88a4c"/></g><g opacity="0.9" filter="url(#b05)"><path d="M766 900Q762.9 896 761.5 892L761.9 900Z" fill="#7c6134"/><path d="M756.9 900Q760.4 895.6 761.5 892L761.9 900Z" fill="#c8a868"/></g><g opacity="0.9" filter="url(#b05)"><path d="M761.3 904.2Q757.4 896.9 755.6 889.7L756.2 904.2Z" fill="#7c6134"/><path d="M750 904.2Q754.2 896.2 755.6 889.7L756.2 904.2Z" fill="#c8a868"/></g><g opacity="0.9" filter="url(#b05)"><path d="M739.5 912.9Q736.4 908.9 734.9 904.8L735.4 912.9Z" fill="#7c6134"/><path d="M730.3 912.9Q733.8 908.5 734.9 904.8L735.4 912.9Z" fill="#c8a868"/></g><g opacity="0.9" filter="url(#b05)"><path d="M579.7 743.4Q577 736.5 575.8 729.7L576.2 743.4Z" fill="#7c6134"/><path d="M571.8 743.4Q574.8 735.9 575.8 729.7L576.2 743.4Z" fill="#c8a868"/></g><g opacity="0.9" filter="url(#b05)"><path d="M563 755.8Q559.9 747.9 558.4 740L558.9 755.8Z" fill="#7c6134"/><path d="M553.8 755.8Q557.3 747.1 558.4 740L558.9 755.8Z" fill="#c8a868"/></g><g opacity="0.9" filter="url(#b05)"><path d="M589.9 763Q587.5 757.5 586.3 751.9L586.7 763Z" fill="#7c6134"/><path d="M582.8 763Q585.5 756.9 586.3 751.9L586.7 763Z" fill="#c8a868"/></g><g opacity="0.9" filter="url(#b05)"><path d="M558.9 771.4Q556.4 765.7 555.2 760L555.5 771.4Z" fill="#856a3c"/><path d="M551.4 771.4Q554.3 765.1 555.2 760L555.5 771.4Z" fill="#d8b878"/></g><g opacity="0.9" filter="url(#b05)"><path d="M569.4 776Q566.3 771.8 564.9 767.6L565.3 776Z" fill="#7c6134"/><path d="M560.3 776Q563.8 771.4 564.9 767.6L565.3 776Z" fill="#c8a868"/></g><g opacity="0.9" filter="url(#b05)"><path d="M589.3 782Q586.6 774 585.3 766L585.7 782Z" fill="#7c6134"/><path d="M581.3 782Q584.4 773.2 585.3 766L585.7 782Z" fill="#c8a868"/></g><g opacity="0.9" filter="url(#b05)"><path d="M559 790.9Q556.4 785 555.2 779.1L555.6 790.9Z" fill="#7c6134"/><path d="M551.4 790.9Q554.3 784.4 555.2 779.1L555.6 790.9Z" fill="#c8a868"/></g><g opacity="0.9" filter="url(#b05)"><path d="M561.4 791.6Q557.8 786.5 556.1 781.5L556.6 791.6Z" fill="#7c6134"/><path d="M550.8 791.6Q554.8 786 556.1 781.5L556.6 791.6Z" fill="#c8a868"/></g><g opacity="0.9" filter="url(#b05)"><path d="M551.7 792.9Q549.1 788 547.8 783.1L548.2 792.9Z" fill="#856a3c"/><path d="M543.9 792.9Q546.9 787.5 547.8 783.1L548.2 792.9Z" fill="#d8b878"/></g><g opacity="0.9" filter="url(#b05)"><path d="M550 806.5Q547.6 801.4 546.4 796.3L546.8 806.5Z" fill="#7c6134"/><path d="M542.8 806.5Q545.6 800.9 546.4 796.3L546.8 806.5Z" fill="#c8a868"/></g><ellipse cx="749" cy="609.2" rx="19" ry="17.1" fill="#8a5a28" opacity="0.55" filter="url(#b3)"/><ellipse cx="747" cy="606" rx="17" ry="22" fill="url(#gDd)" filter="url(#b2)"/><ellipse cx="694" cy="631.8" rx="24.6" ry="20.9" fill="#8a5a28" opacity="0.55" transform="rotate(15 692 627)" filter="url(#b3)"/><ellipse cx="692" cy="627" rx="22" ry="28" fill="url(#gD)" transform="rotate(15 692 627)" filter="url(#b2)"/><ellipse cx="714" cy="675.6" rx="25.8" ry="24.7" fill="#8a5a28" opacity="0.55" transform="rotate(10 712 670)" filter="url(#b3)"/><ellipse cx="712" cy="670" rx="23" ry="33" fill="url(#gD)" transform="rotate(10 712 670)" filter="url(#b2)"/><ellipse cx="616" cy="722.4" rx="28" ry="23.8" fill="#8a5a28" opacity="0.55" filter="url(#b3)"/><ellipse cx="614" cy="716" rx="25" ry="33" fill="url(#gD)" filter="url(#b2)"/><ellipse cx="668" cy="739" rx="20.2" ry="19" fill="#8a5a28" opacity="0.55" filter="url(#b3)"/><ellipse cx="666" cy="735" rx="18" ry="25" fill="url(#gD)" filter="url(#b2)"/><ellipse cx="641" cy="795.6" rx="33.6" ry="36.1" fill="#8a5a28" opacity="0.55" transform="rotate(8 639 790)" filter="url(#b3)"/><ellipse cx="639" cy="790" rx="30" ry="45" fill="url(#gD)" transform="rotate(8 639 790)" filter="url(#b2)"/><ellipse cx="824" cy="709.6" rx="32.5" ry="25.6" fill="#8a5a28" opacity="0.55" filter="url(#b3)"/><ellipse cx="782" cy="734.6" rx="31.4" ry="20.9" fill="#8a5a28" opacity="0.55" transform="rotate(-15 780 729)" filter="url(#b3)"/><ellipse cx="804" cy="720.6" rx="29.1" ry="20.9" fill="#8a5a28" opacity="0.55" transform="rotate(-20 802 715)" filter="url(#b3)"/><ellipse cx="822" cy="704" rx="29" ry="34" fill="url(#gD)" filter="url(#b2)"/><ellipse cx="780" cy="729" rx="28" ry="29" fill="url(#gD)" transform="rotate(-15 780 729)" filter="url(#b2)"/><ellipse cx="802" cy="715" rx="26" ry="29" fill="url(#gD)" transform="rotate(-20 802 715)" filter="url(#b2)"/><g opacity="0.9" filter="url(#b05)"><path d="M890 640Q886.6 630 885 620L885.5 640Z" fill="#856638"/><path d="M880 640Q883.8 629 885 620L885.5 640Z" fill="#d8b070"/></g></g>
<polyline points="490.4,880.9 774.4,965.7 891.8,663.9 900.9,608.6" fill="none" stroke="#8d9299" stroke-width="1.3" stroke-linejoin="round"/>
<line x1="490.4" y1="880.9" x2="487.5" y2="885.5" stroke="#8d9299" stroke-width="1.2"/>
<line x1="627.4" y1="921.8" x2="624.8" y2="927.5" stroke="#8d9299" stroke-width="1.2"/>
<line x1="774.4" y1="965.7" x2="773.2" y2="971.8" stroke="#8d9299" stroke-width="1.2"/>
<line x1="774.4" y1="965.7" x2="780" y2="967" stroke="#8d9299" stroke-width="1.2"/>
<line x1="842.2" y1="790.5" x2="847.5" y2="792" stroke="#8d9299" stroke-width="1.2"/>
<line x1="900.9" y1="608.6" x2="905.8" y2="608.6" stroke="#8d9299" stroke-width="1.2"/>
<line x1="895.7" y1="636.5" x2="900.4" y2="637.2" stroke="#8d9299" stroke-width="1.2"/>
<line x1="891.8" y1="663.9" x2="896.4" y2="664.6" stroke="#8d9299" stroke-width="1.2"/>
<text transform="translate(610.5 961) rotate(16.7)" text-anchor="middle" style="font-family:'Liberation Sans', Arial, sans-serif;font-size:16px;fill:#2e2e2e;font-style:italic" textLength="55" lengthAdjust="spacingAndGlyphs">6.5 µm</text>
<text transform="translate(872.5 803.5) rotate(-68.2)" text-anchor="middle" style="font-family:'Liberation Sans', Arial, sans-serif;font-size:16px;fill:#2e2e2e;font-style:italic" textLength="63" lengthAdjust="spacingAndGlyphs">10.0 µm</text>
<text transform="translate(925 619.6) rotate(0)" text-anchor="start" style="font-family:'Liberation Sans', Arial, sans-serif;font-size:16.5px;fill:#2e2e2e" textLength="64.2" lengthAdjust="spacingAndGlyphs">0.08 µm</text>
<text transform="translate(916.5 676.4) rotate(0)" text-anchor="start" style="font-family:'Liberation Sans', Arial, sans-serif;font-size:16.5px;fill:#2e2e2e" textLength="70.5" lengthAdjust="spacingAndGlyphs">-0.05 µm</text>
<text x="3.3" y="33.5" style="font-family:'Liberation Sans', Arial, sans-serif;font-weight:bold;font-size:43.5px;fill:#000">(a)</text>
<text x="503.9" y="34.1" style="font-family:'Liberation Sans', Arial, sans-serif;font-weight:bold;font-size:43.5px;fill:#000">(b)</text>
<text x="-0.3" y="546" style="font-family:'Liberation Sans', Arial, sans-serif;font-weight:bold;font-size:43.5px;fill:#000">(c)</text>
<text x="503.7" y="546.1" style="font-family:'Liberation Sans', Arial, sans-serif;font-weight:bold;font-size:43.5px;fill:#000">(d)</text>
<text x="-0.3" y="1040.3" style="font-family:'Liberation Sans', Arial, sans-serif;font-weight:bold;font-size:43.5px;fill:#000">(e)</text>
<text x="551.6" y="1044" style="font-family:'Liberation Sans', Arial, sans-serif;font-weight:bold;font-size:43.5px;fill:#000">(f)</text>
<line x1="74.7" y1="22" x2="74.7" y2="29.8" stroke="#556" stroke-width="1.3"/>
<text x="75.3" y="15.8" style="font-family:'Liberation Serif', 'Times New Roman', serif;font-weight:bold;font-size:18.5px;fill:#111;letter-spacing:1px;word-spacing:1px">0 µm</text>
<line x1="175.5" y1="22" x2="175.5" y2="29.8" stroke="#556" stroke-width="1.3"/>
<text x="176.1" y="15.8" style="font-family:'Liberation Serif', 'Times New Roman', serif;font-weight:bold;font-size:18.5px;fill:#111">2</text>
<line x1="276.3" y1="22" x2="276.3" y2="29.8" stroke="#556" stroke-width="1.3"/>
<text x="276.9" y="15.8" style="font-family:'Liberation Serif', 'Times New Roman', serif;font-weight:bold;font-size:18.5px;fill:#111">4</text>
<line x1="66" y1="29.8" x2="75" y2="29.8" stroke="#556" stroke-width="1.3"/>
<text x="64" y="49" text-anchor="end" style="font-family:'Liberation Serif', 'Times New Roman', serif;font-weight:bold;font-size:18.5px;fill:#111">0</text>
<line x1="66" y1="130.6" x2="75" y2="130.6" stroke="#556" stroke-width="1.3"/>
<text x="64" y="149.8" text-anchor="end" style="font-family:'Liberation Serif', 'Times New Roman', serif;font-weight:bold;font-size:18.5px;fill:#111">2</text>
<line x1="66" y1="231.4" x2="75" y2="231.4" stroke="#556" stroke-width="1.3"/>
<text x="64" y="250.6" text-anchor="end" style="font-family:'Liberation Serif', 'Times New Roman', serif;font-weight:bold;font-size:18.5px;fill:#111">4</text>
<line x1="66" y1="332.2" x2="75" y2="332.2" stroke="#556" stroke-width="1.3"/>
<text x="64" y="351.4" text-anchor="end" style="font-family:'Liberation Serif', 'Times New Roman', serif;font-weight:bold;font-size:18.5px;fill:#111">6</text>
<line x1="66" y1="433" x2="75" y2="433" stroke="#556" stroke-width="1.3"/>
<text x="64" y="452.2" text-anchor="end" style="font-family:'Liberation Serif', 'Times New Roman', serif;font-weight:bold;font-size:18.5px;fill:#111">8</text>
<rect x="75" y="29.8" width="282.8" height="448.4" fill="none" stroke="#2a1206" stroke-width="1.3"/>
<line x1="71.4" y1="534.5" x2="71.4" y2="542.3" stroke="#556" stroke-width="1.3"/>
<text x="72" y="529.8" style="font-family:'Liberation Serif', 'Times New Roman', serif;font-weight:bold;font-size:17.2px;fill:#111;letter-spacing:1px;word-spacing:1px">0 µm</text>
<line x1="162.3" y1="534.5" x2="162.3" y2="542.3" stroke="#556" stroke-width="1.3"/>
<text x="162.9" y="529.8" style="font-family:'Liberation Serif', 'Times New Roman', serif;font-weight:bold;font-size:17.2px;fill:#111">2</text>
<line x1="253.2" y1="534.5" x2="253.2" y2="542.3" stroke="#556" stroke-width="1.3"/>
<text x="253.8" y="529.8" style="font-family:'Liberation Serif', 'Times New Roman', serif;font-weight:bold;font-size:17.2px;fill:#111">4</text>
<line x1="344.1" y1="534.5" x2="344.1" y2="542.3" stroke="#556" stroke-width="1.3"/>
<text x="344.7" y="529.8" style="font-family:'Liberation Serif', 'Times New Roman', serif;font-weight:bold;font-size:17.2px;fill:#111">6</text>
<line x1="62.7" y1="542.3" x2="71.7" y2="542.3" stroke="#556" stroke-width="1.3"/>
<text x="62.7" y="560" text-anchor="end" style="font-family:'Liberation Serif', 'Times New Roman', serif;font-weight:bold;font-size:17.2px;fill:#111">0</text>
<line x1="62.7" y1="633.2" x2="71.7" y2="633.2" stroke="#556" stroke-width="1.3"/>
<text x="62.7" y="650.9" text-anchor="end" style="font-family:'Liberation Serif', 'Times New Roman', serif;font-weight:bold;font-size:17.2px;fill:#111">2</text>
<line x1="62.7" y1="724.1" x2="71.7" y2="724.1" stroke="#556" stroke-width="1.3"/>
<text x="62.7" y="741.8" text-anchor="end" style="font-family:'Liberation Serif', 'Times New Roman', serif;font-weight:bold;font-size:17.2px;fill:#111">4</text>
<line x1="62.7" y1="815" x2="71.7" y2="815" stroke="#556" stroke-width="1.3"/>
<text x="62.7" y="832.7" text-anchor="end" style="font-family:'Liberation Serif', 'Times New Roman', serif;font-weight:bold;font-size:17.2px;fill:#111">6</text>
<line x1="62.7" y1="905.9" x2="71.7" y2="905.9" stroke="#556" stroke-width="1.3"/>
<text x="62.7" y="923.6" text-anchor="end" style="font-family:'Liberation Serif', 'Times New Roman', serif;font-weight:bold;font-size:17.2px;fill:#111">8</text>
<rect x="71.7" y="542.3" width="296.5" height="452.5" fill="none" stroke="#2a1206" stroke-width="1.3"/>
<rect x="373.6" y="29.3" width="25.6" height="449.1" fill="url(#cb)" stroke="#555" stroke-width="1.4"/>
<line x1="399.2" y1="29.3" x2="407.2" y2="29.3" stroke="#444" stroke-width="1.3"/>
<text x="472" y="49.3" text-anchor="end" style="font-family:'Liberation Serif', 'Times New Roman', serif;font-weight:bold;font-size:19.5px;fill:#111">120 nm</text>
<line x1="399.2" y1="77.1" x2="407.2" y2="77.1" stroke="#444" stroke-width="1.3"/>
<text x="440.5" y="96.1" text-anchor="end" style="font-family:'Liberation Serif', 'Times New Roman', serif;font-weight:bold;font-size:19.5px;fill:#111">100</text>
<line x1="399.2" y1="124.9" x2="407.2" y2="124.9" stroke="#444" stroke-width="1.3"/>
<text x="440.5" y="143.9" text-anchor="end" style="font-family:'Liberation Serif', 'Times New Roman', serif;font-weight:bold;font-size:19.5px;fill:#111">80</text>
<line x1="399.2" y1="172.6" x2="407.2" y2="172.6" stroke="#444" stroke-width="1.3"/>
<text x="440.5" y="191.6" text-anchor="end" style="font-family:'Liberation Serif', 'Times New Roman', serif;font-weight:bold;font-size:19.5px;fill:#111">60</text>
<line x1="399.2" y1="220.4" x2="407.2" y2="220.4" stroke="#444" stroke-width="1.3"/>
<text x="440.5" y="239.4" text-anchor="end" style="font-family:'Liberation Serif', 'Times New Roman', serif;font-weight:bold;font-size:19.5px;fill:#111">40</text>
<line x1="399.2" y1="268.2" x2="407.2" y2="268.2" stroke="#444" stroke-width="1.3"/>
<text x="440.5" y="287.2" text-anchor="end" style="font-family:'Liberation Serif', 'Times New Roman', serif;font-weight:bold;font-size:19.5px;fill:#111">20</text>
<line x1="399.2" y1="316" x2="407.2" y2="316" stroke="#444" stroke-width="1.3"/>
<text x="440.5" y="335" text-anchor="end" style="font-family:'Liberation Serif', 'Times New Roman', serif;font-weight:bold;font-size:19.5px;fill:#111">0</text>
<line x1="399.2" y1="363.7" x2="407.2" y2="363.7" stroke="#444" stroke-width="1.3"/>
<text x="440.5" y="382.7" text-anchor="end" style="font-family:'Liberation Serif', 'Times New Roman', serif;font-weight:bold;font-size:19.5px;fill:#111">−20</text>
<line x1="399.2" y1="411.5" x2="407.2" y2="411.5" stroke="#444" stroke-width="1.3"/>
<text x="440.5" y="430.5" text-anchor="end" style="font-family:'Liberation Serif', 'Times New Roman', serif;font-weight:bold;font-size:19.5px;fill:#111">−40</text>
<line x1="399.2" y1="478.4" x2="407.2" y2="478.4" stroke="#444" stroke-width="1.3"/>
<text x="440.5" y="475.4" text-anchor="end" style="font-family:'Liberation Serif', 'Times New Roman', serif;font-weight:bold;font-size:19.5px;fill:#111">−68</text>
<rect x="381.3" y="541.5" width="22.5" height="453.5" fill="url(#cb)" stroke="#555" stroke-width="1.4"/>
<line x1="403.8" y1="541.5" x2="411.8" y2="541.5" stroke="#444" stroke-width="1.3"/>
<text x="473.5" y="560.5" text-anchor="end" style="font-family:'Liberation Serif', 'Times New Roman', serif;font-weight:bold;font-size:19.5px;fill:#111">80 nm</text>
<line x1="403.8" y1="611.8" x2="411.8" y2="611.8" stroke="#444" stroke-width="1.3"/>
<text x="442" y="629.8" text-anchor="end" style="font-family:'Liberation Serif', 'Times New Roman', serif;font-weight:bold;font-size:19.5px;fill:#111">60</text>
<line x1="403.8" y1="682.1" x2="411.8" y2="682.1" stroke="#444" stroke-width="1.3"/>
<text x="442" y="700.1" text-anchor="end" style="font-family:'Liberation Serif', 'Times New Roman', serif;font-weight:bold;font-size:19.5px;fill:#111">40</text>
<line x1="403.8" y1="752.4" x2="411.8" y2="752.4" stroke="#444" stroke-width="1.3"/>
<text x="442" y="770.4" text-anchor="end" style="font-family:'Liberation Serif', 'Times New Roman', serif;font-weight:bold;font-size:19.5px;fill:#111">20</text>
<line x1="403.8" y1="822.7" x2="411.8" y2="822.7" stroke="#444" stroke-width="1.3"/>
<text x="442" y="840.7" text-anchor="end" style="font-family:'Liberation Serif', 'Times New Roman', serif;font-weight:bold;font-size:19.5px;fill:#111">0</text>
<line x1="403.8" y1="893.1" x2="411.8" y2="893.1" stroke="#444" stroke-width="1.3"/>
<text x="442" y="911.1" text-anchor="end" style="font-family:'Liberation Serif', 'Times New Roman', serif;font-weight:bold;font-size:19.5px;fill:#111">−20</text>
<line x1="403.8" y1="995" x2="411.8" y2="995" stroke="#444" stroke-width="1.3"/>
<text x="442" y="992" text-anchor="end" style="font-family:'Liberation Serif', 'Times New Roman', serif;font-weight:bold;font-size:19.5px;fill:#111">−49</text>
<rect x="1063.4" y="12.7" width="15.1" height="449.5" fill="url(#cb)"/>
<path d="M1063.4 462.2 V12.7 H1078.5 V462.2" fill="none" stroke="#9a9a9a" stroke-width="1.3"/>
<line x1="1078.5" y1="12.7" x2="1087" y2="12.7" stroke="#888" stroke-width="1.2"/>
<text x="1088.8" y="17.7" style="font-family:'Liberation Sans', Arial, sans-serif;font-size:14px;fill:#333">120.1 <tspan font-size="12.5px">nm</tspan></text>
<line x1="1078.5" y1="60.6" x2="1087" y2="60.6" stroke="#888" stroke-width="1.2"/>
<text x="1088.8" y="65.6" style="font-family:'Liberation Sans', Arial, sans-serif;font-size:14px;fill:#333">100.0</text>
<line x1="1078.5" y1="108.3" x2="1087" y2="108.3" stroke="#888" stroke-width="1.2"/>
<text x="1088.8" y="113.3" style="font-family:'Liberation Sans', Arial, sans-serif;font-size:14px;fill:#333">80.0</text>
<line x1="1078.5" y1="156" x2="1087" y2="156" stroke="#888" stroke-width="1.2"/>
<text x="1088.8" y="161" style="font-family:'Liberation Sans', Arial, sans-serif;font-size:14px;fill:#333">60.0</text>
<line x1="1078.5" y1="203.7" x2="1087" y2="203.7" stroke="#888" stroke-width="1.2"/>
<text x="1088.8" y="208.7" style="font-family:'Liberation Sans', Arial, sans-serif;font-size:14px;fill:#333">40.0</text>
<line x1="1078.5" y1="251.4" x2="1087" y2="251.4" stroke="#888" stroke-width="1.2"/>
<text x="1088.8" y="256.4" style="font-family:'Liberation Sans', Arial, sans-serif;font-size:14px;fill:#333">20.0</text>
<line x1="1078.5" y1="299.1" x2="1087" y2="299.1" stroke="#888" stroke-width="1.2"/>
<text x="1088.8" y="304.1" style="font-family:'Liberation Sans', Arial, sans-serif;font-size:14px;fill:#333">0.0</text>
<line x1="1078.5" y1="346.8" x2="1087" y2="346.8" stroke="#888" stroke-width="1.2"/>
<text x="1088.8" y="351.8" style="font-family:'Liberation Sans', Arial, sans-serif;font-size:14px;fill:#333">−20.0</text>
<line x1="1078.5" y1="394.5" x2="1087" y2="394.5" stroke="#888" stroke-width="1.2"/>
<text x="1088.8" y="399.5" style="font-family:'Liberation Sans', Arial, sans-serif;font-size:14px;fill:#333">−40.0</text>
<line x1="1078.5" y1="442.2" x2="1087" y2="442.2" stroke="#888" stroke-width="1.2"/>
<text x="1088.8" y="447.2" style="font-family:'Liberation Sans', Arial, sans-serif;font-size:14px;fill:#333">−60.0</text>
<line x1="1078.5" y1="462.2" x2="1087" y2="462.2" stroke="#888" stroke-width="1.2"/>
<text x="1088.8" y="469.7" style="font-family:'Liberation Sans', Arial, sans-serif;font-size:14px;fill:#333">−68.4</text>
<rect x="1053.8" y="515.6" width="16" height="450.4" fill="url(#cb)"/>
<path d="M1053.8 966 V515.6 H1069.8 V966" fill="none" stroke="#9a9a9a" stroke-width="1.3"/>
<line x1="1069.8" y1="515.6" x2="1078.3" y2="515.6" stroke="#888" stroke-width="1.2"/>
<text x="1080.1" y="520.6" style="font-family:'Liberation Sans', Arial, sans-serif;font-size:14px;fill:#333">80.1 <tspan font-size="12.5px">nm</tspan></text>
<line x1="1069.8" y1="550.8" x2="1078.3" y2="550.8" stroke="#888" stroke-width="1.2"/>
<text x="1080.1" y="555.8" style="font-family:'Liberation Sans', Arial, sans-serif;font-size:14px;fill:#333">70.0</text>
<line x1="1069.8" y1="585.7" x2="1078.3" y2="585.7" stroke="#888" stroke-width="1.2"/>
<text x="1080.1" y="590.7" style="font-family:'Liberation Sans', Arial, sans-serif;font-size:14px;fill:#333">60.0</text>
<line x1="1069.8" y1="620.6" x2="1078.3" y2="620.6" stroke="#888" stroke-width="1.2"/>
<text x="1080.1" y="625.6" style="font-family:'Liberation Sans', Arial, sans-serif;font-size:14px;fill:#333">50.0</text>
<line x1="1069.8" y1="655.5" x2="1078.3" y2="655.5" stroke="#888" stroke-width="1.2"/>
<text x="1080.1" y="660.5" style="font-family:'Liberation Sans', Arial, sans-serif;font-size:14px;fill:#333">40.0</text>
<line x1="1069.8" y1="690.4" x2="1078.3" y2="690.4" stroke="#888" stroke-width="1.2"/>
<text x="1080.1" y="695.4" style="font-family:'Liberation Sans', Arial, sans-serif;font-size:14px;fill:#333">30.0</text>
<line x1="1069.8" y1="725.3" x2="1078.3" y2="725.3" stroke="#888" stroke-width="1.2"/>
<text x="1080.1" y="730.3" style="font-family:'Liberation Sans', Arial, sans-serif;font-size:14px;fill:#333">20.0</text>
<line x1="1069.8" y1="760.2" x2="1078.3" y2="760.2" stroke="#888" stroke-width="1.2"/>
<text x="1080.1" y="765.2" style="font-family:'Liberation Sans', Arial, sans-serif;font-size:14px;fill:#333">10.0</text>
<line x1="1069.8" y1="795.1" x2="1078.3" y2="795.1" stroke="#888" stroke-width="1.2"/>
<text x="1080.1" y="800.1" style="font-family:'Liberation Sans', Arial, sans-serif;font-size:14px;fill:#333">0.0</text>
<line x1="1069.8" y1="829.9" x2="1078.3" y2="829.9" stroke="#888" stroke-width="1.2"/>
<text x="1080.1" y="834.9" style="font-family:'Liberation Sans', Arial, sans-serif;font-size:14px;fill:#333">−10.0</text>
<line x1="1069.8" y1="864.8" x2="1078.3" y2="864.8" stroke="#888" stroke-width="1.2"/>
<text x="1080.1" y="869.8" style="font-family:'Liberation Sans', Arial, sans-serif;font-size:14px;fill:#333">−20.0</text>
<line x1="1069.8" y1="899.7" x2="1078.3" y2="899.7" stroke="#888" stroke-width="1.2"/>
<text x="1080.1" y="904.7" style="font-family:'Liberation Sans', Arial, sans-serif;font-size:14px;fill:#333">−30.0</text>
<line x1="1069.8" y1="934.6" x2="1078.3" y2="934.6" stroke="#888" stroke-width="1.2"/>
<text x="1080.1" y="939.6" style="font-family:'Liberation Sans', Arial, sans-serif;font-size:14px;fill:#333">−40.0</text>
<line x1="1069.8" y1="966" x2="1078.3" y2="966" stroke="#888" stroke-width="1.2"/>
<text x="1080.1" y="973.5" style="font-family:'Liberation Sans', Arial, sans-serif;font-size:14px;fill:#333">−49.0</text>
<path d="M101.8 1224.8v3.8M101.8 1024.5v3.8M132.9 1224.8v7M132.9 1024.5v7M164 1224.8v3.8M164 1024.5v3.8M195.1 1224.8v7M195.1 1024.5v7M226.2 1224.8v3.8M226.2 1024.5v3.8M257.3 1224.8v7M257.3 1024.5v7M288.4 1224.8v3.8M288.4 1024.5v3.8M319.5 1224.8v7M319.5 1024.5v7M350.6 1224.8v3.8M350.6 1024.5v3.8M381.7 1224.8v7M381.7 1024.5v7M412.8 1224.8v3.8M412.8 1024.5v3.8M443.9 1224.8v7M443.9 1024.5v7M475 1224.8v3.8M475 1024.5v3.8M506.1 1224.8v7M506.1 1024.5v7M537.2 1224.8v3.8M537.2 1024.5v3.8M101.6 1024h-3.8M539 1024h-3.8M101.6 1040.8h-7M539 1040.8h-7M101.6 1057.5h-3.8M539 1057.5h-3.8M101.6 1074.3h-7M539 1074.3h-7M101.6 1091h-3.8M539 1091h-3.8M101.6 1107.8h-7M539 1107.8h-7M101.6 1124.5h-3.8M539 1124.5h-3.8M101.6 1141.3h-7M539 1141.3h-7M101.6 1158h-3.8M539 1158h-3.8M101.6 1174.8h-7M539 1174.8h-7M101.6 1191.5h-3.8M539 1191.5h-3.8M101.6 1208.3h-7M539 1208.3h-7M101.6 1225h-3.8M539 1225h-3.8" stroke="#555" stroke-width="1.7" fill="none"/>
<polyline points="133.4,1190 136,1192.4 139.4,1194.4 143,1191 146,1184 148,1183 152,1189 155,1201 157.4,1211 159.4,1213.6 162,1209 166,1202 169,1203 172,1205 177,1201.6 180,1202.4 184,1208 188,1207 191,1208 194,1210 197,1207 201,1199 206,1190 210,1176 214,1158 218,1144 221,1138.4 226,1137.6 231,1133 234,1122 237,1111 240,1108 244,1109.6 248,1116 253,1128 257,1133 263,1135 268,1132 273,1124 277,1113 281,1103 286,1099 290,1088 295,1070 299,1056 303,1048 311,1045 317,1047 325,1047 335,1045.6 345,1047 355,1047 365,1048 373,1051 377,1055 379.4,1063 381,1080 382.6,1098 385,1113 388,1112.4 391,1118 395,1124 401,1128 407,1132 412,1138 415,1148 418,1157 421,1159 425,1156 430,1155 437,1157.6 443,1154.4 450,1149.6 457,1145.6 461,1132 465,1118 468.6,1112.4 473,1117 481,1124 487,1133 491,1136 495,1129" fill="none" stroke="#474747" stroke-width="1.7" stroke-linejoin="round" stroke-linecap="round"/>
<polyline points="107,1197.6 112,1193.6 117,1189.6 122,1196 128,1199 133,1200.6 138,1205 145,1208.4 152,1208.4 159,1212 164,1212.4 169,1210 175,1203 181,1194 187,1182 193,1173 199,1166 205,1156 211,1148 217,1140 223,1134 228,1131 233,1132.4 239,1137 246,1139.6 250,1135 255,1124 261,1112 267,1096 273,1080 279,1065 285,1055 290,1051 297,1049 303,1046.4 313,1045 325,1044 335,1042.4 345,1042 353,1042.6 361,1045 369,1050 374,1060 381,1069 387,1077 395,1086 401,1096 407,1106 415,1113 421,1122 427,1132 433,1141 439,1147 445,1149 451,1147 459,1140 467,1133 473,1130.4 478,1132 484,1138 489,1140 495,1135" fill="none" stroke="#f0565a" stroke-width="1.7" stroke-linejoin="round" stroke-linecap="round"/>
<rect x="101.6" y="1024.5" width="437.4" height="200.3" fill="none" stroke="#555" stroke-width="2"/>
<text x="132.9" y="1248.8" text-anchor="middle" style="font-family:'Liberation Sans', Arial, sans-serif;font-size:16.5px;fill:#444">0</text>
<text x="195.1" y="1248.8" text-anchor="middle" style="font-family:'Liberation Sans', Arial, sans-serif;font-size:16.5px;fill:#444">500</text>
<text x="257.3" y="1248.8" text-anchor="middle" style="font-family:'Liberation Sans', Arial, sans-serif;font-size:16.5px;fill:#444">1000</text>
<text x="319.5" y="1248.8" text-anchor="middle" style="font-family:'Liberation Sans', Arial, sans-serif;font-size:16.5px;fill:#444">1500</text>
<text x="381.7" y="1248.8" text-anchor="middle" style="font-family:'Liberation Sans', Arial, sans-serif;font-size:16.5px;fill:#444">2000</text>
<text x="443.9" y="1248.8" text-anchor="middle" style="font-family:'Liberation Sans', Arial, sans-serif;font-size:16.5px;fill:#444">2500</text>
<text x="506.1" y="1248.8" text-anchor="middle" style="font-family:'Liberation Sans', Arial, sans-serif;font-size:16.5px;fill:#444">3000</text>
<text x="89.8" y="1046.6" text-anchor="end" style="font-family:'Liberation Sans', Arial, sans-serif;font-size:16.5px;fill:#444">60</text>
<text x="89.8" y="1080.1" text-anchor="end" style="font-family:'Liberation Sans', Arial, sans-serif;font-size:16.5px;fill:#444">40</text>
<text x="89.8" y="1113.6" text-anchor="end" style="font-family:'Liberation Sans', Arial, sans-serif;font-size:16.5px;fill:#444">20</text>
<text x="89.8" y="1147.1" text-anchor="end" style="font-family:'Liberation Sans', Arial, sans-serif;font-size:16.5px;fill:#444">0</text>
<text x="89.8" y="1180.6" text-anchor="end" style="font-family:'Liberation Sans', Arial, sans-serif;font-size:16.5px;fill:#444">-20</text>
<text x="89.8" y="1214.1" text-anchor="end" style="font-family:'Liberation Sans', Arial, sans-serif;font-size:16.5px;fill:#444">-40</text>
<text x="320" y="1274.5" text-anchor="middle" style="font-family:'Liberation Sans', Arial, sans-serif;font-size:17px;font-weight:bold;fill:#222">Distance (nm)</text>
<text transform="translate(57.3 1114.5) rotate(-90)" text-anchor="middle" style="font-family:'Liberation Sans', Arial, sans-serif;font-size:17px;font-weight:bold;fill:#222">Height (nm)</text>
<rect x="112.7" y="1036" width="104.6" height="70.3" fill="#fff" stroke="#3a3a3a" stroke-width="1.6"/>
<text x="116.2" y="1054.6" style="font-family:'Liberation Sans', Arial, sans-serif;font-size:18px;fill:#222">Profile 1</text>
<line x1="116.7" y1="1071.3" x2="154.7" y2="1071.3" stroke="#474747" stroke-width="1.6"/>
<text x="161.2" y="1077.6" style="font-family:'Liberation Sans', Arial, sans-serif;font-size:18px;fill:#222">Before</text>
<line x1="116.7" y1="1093.8" x2="154.7" y2="1093.8" stroke="#f0565a" stroke-width="1.6"/>
<text x="161.2" y="1100.1" style="font-family:'Liberation Sans', Arial, sans-serif;font-size:18px;fill:#222">After</text>
<path d="M651.3 1223.6v7M651.3 1023.2v7M691.5 1223.6v3.8M691.5 1023.2v3.8M731.7 1223.6v7M731.7 1023.2v7M771.9 1223.6v3.8M771.9 1023.2v3.8M812.1 1223.6v7M812.1 1023.2v7M852.3 1223.6v3.8M852.3 1023.2v3.8M892.5 1223.6v7M892.5 1023.2v7M932.7 1223.6v3.8M932.7 1023.2v3.8M972.9 1223.6v7M972.9 1023.2v7M1013.1 1223.6v3.8M1013.1 1023.2v3.8M1053.3 1223.6v7M1053.3 1023.2v7M635 1023.2h-3.8M1070.8 1023.2h-3.8M635 1035.7h-7M1070.8 1035.7h-7M635 1048.2h-3.8M1070.8 1048.2h-3.8M635 1060.8h-7M1070.8 1060.8h-7M635 1073.3h-3.8M1070.8 1073.3h-3.8M635 1085.8h-7M1070.8 1085.8h-7M635 1098.4h-3.8M1070.8 1098.4h-3.8M635 1110.9h-7M1070.8 1110.9h-7M635 1123.4h-3.8M1070.8 1123.4h-3.8M635 1136h-7M1070.8 1136h-7M635 1148.5h-3.8M1070.8 1148.5h-3.8M635 1161h-7M1070.8 1161h-7M635 1173.6h-3.8M1070.8 1173.6h-3.8M635 1186.1h-7M1070.8 1186.1h-7M635 1198.7h-3.8M1070.8 1198.7h-3.8M635 1211.2h-7M1070.8 1211.2h-7M635 1223.7h-3.8M1070.8 1223.7h-3.8" stroke="#555" stroke-width="1.7" fill="none"/>
<polyline points="650.6,1101 653,1107 655,1109 657.6,1107 659.6,1116 661,1136 664,1150 667,1158 670,1159 674,1156 678,1136 681,1110 684,1070 687.4,1052 689.6,1060 694,1061 699,1060 701,1066 705,1100 708,1128 710,1148 711.6,1151 713.6,1132 717,1090 721,1054 724,1037 726.4,1034.4 729,1040 732,1060 734,1096 736,1132 738.4,1147 740.4,1141 743,1148 747,1162 752,1169 755,1169 758,1152 760.4,1146 764,1152 769,1162 776,1164 783,1169 790,1169 795,1163 799,1164.4 802,1163 805,1152 808,1149.6 811,1154 814.4,1162.4 817,1156 820,1140 823.6,1139 826,1110 829,1089 832,1100 836,1111 839,1113 842,1126 847,1141 854,1134 858,1122 860.4,1119 864,1134 869,1149 872,1132 874.4,1106 876.4,1094 879,1100 883,1116 887,1144 890,1164 892,1167 894,1148 896,1130 901,1120 906,1111 909,1109 912,1115 916,1130 920,1144 923,1150 925.6,1132 928,1114 930.4,1112 932.4,1118 935,1142 937,1153 940,1144 943,1134 945,1132 948,1142 951,1166 954,1186 957,1199 959,1203 961.6,1196 964,1187 967,1192 972,1204 977,1209 979.6,1207 983,1196 987,1182 991,1160 995,1153 999,1138 1002,1127 1005,1125 1008,1132 1011,1144 1015,1156 1019,1166 1022,1162 1024.4,1162.4" fill="none" stroke="#474747" stroke-width="1.7" stroke-linejoin="round" stroke-linecap="round"/>
<polyline points="650.6,1129.6 655.6,1126.4 658,1132 661,1146 664,1156 667.6,1162.4 672,1157 677,1138 681,1114 685,1092 689,1079 692.4,1077 696,1081 700,1086 705,1104 709,1122 711,1126 714,1108 718,1080 722,1058 725.6,1043 728,1040 731,1047 734,1066 738,1092 743,1116 748,1130 752,1140 756,1162 761,1175 766,1182 773,1194 779,1194.4 784,1194 789,1198.6 794,1195 800,1193.6 806,1191 811,1186 816,1180 819,1183 822.4,1189 827,1180 832,1168 835,1150 838,1139.6 842,1142 846,1140 850,1150 853,1160 857,1167 862,1160 866.4,1156 871,1160 875.6,1169 880,1160 884,1144 887,1134 890,1135 894,1152 898,1172 902.4,1185.6 907,1172 912,1158 917,1144 921,1135 924,1137 927,1150 931,1165 935,1165.6 938,1156 940.4,1153.6 944,1168 948,1180 951,1183 955,1174 958,1169 961,1178 965,1196 970,1206 973,1203 976,1192 979,1193 982,1198 987,1194 992,1194 997,1182 1001,1168 1005,1152 1009,1140 1013,1134 1016,1135 1020,1144 1025,1158 1030,1169 1034,1172.4 1038,1174.4" fill="none" stroke="#f0565a" stroke-width="1.7" stroke-linejoin="round" stroke-linecap="round"/>
<rect x="635" y="1023.2" width="435.8" height="200.4" fill="none" stroke="#555" stroke-width="2"/>
<text x="651.3" y="1248.8" text-anchor="middle" style="font-family:'Liberation Sans', Arial, sans-serif;font-size:16.5px;fill:#444">0</text>
<text x="731.7" y="1248.8" text-anchor="middle" style="font-family:'Liberation Sans', Arial, sans-serif;font-size:16.5px;fill:#444">1000</text>
<text x="812.1" y="1248.8" text-anchor="middle" style="font-family:'Liberation Sans', Arial, sans-serif;font-size:16.5px;fill:#444">2000</text>
<text x="892.5" y="1248.8" text-anchor="middle" style="font-family:'Liberation Sans', Arial, sans-serif;font-size:16.5px;fill:#444">3000</text>
<text x="972.9" y="1248.8" text-anchor="middle" style="font-family:'Liberation Sans', Arial, sans-serif;font-size:16.5px;fill:#444">4000</text>
<text x="1053.3" y="1248.8" text-anchor="middle" style="font-family:'Liberation Sans', Arial, sans-serif;font-size:16.5px;fill:#444">5000</text>
<text x="623.2" y="1041.5" text-anchor="end" style="font-family:'Liberation Sans', Arial, sans-serif;font-size:16.5px;fill:#444">50</text>
<text x="623.2" y="1066.6" text-anchor="end" style="font-family:'Liberation Sans', Arial, sans-serif;font-size:16.5px;fill:#444">40</text>
<text x="623.2" y="1091.6" text-anchor="end" style="font-family:'Liberation Sans', Arial, sans-serif;font-size:16.5px;fill:#444">30</text>
<text x="623.2" y="1116.7" text-anchor="end" style="font-family:'Liberation Sans', Arial, sans-serif;font-size:16.5px;fill:#444">20</text>
<text x="623.2" y="1141.8" text-anchor="end" style="font-family:'Liberation Sans', Arial, sans-serif;font-size:16.5px;fill:#444">10</text>
<text x="623.2" y="1166.8" text-anchor="end" style="font-family:'Liberation Sans', Arial, sans-serif;font-size:16.5px;fill:#444">0</text>
<text x="623.2" y="1191.9" text-anchor="end" style="font-family:'Liberation Sans', Arial, sans-serif;font-size:16.5px;fill:#444">-10</text>
<text x="623.2" y="1217" text-anchor="end" style="font-family:'Liberation Sans', Arial, sans-serif;font-size:16.5px;fill:#444">-20</text>
<text x="851.5" y="1274.5" text-anchor="middle" style="font-family:'Liberation Sans', Arial, sans-serif;font-size:17px;font-weight:bold;fill:#222">Distance (nm)</text>
<text transform="translate(589.2 1113.5) rotate(-90)" text-anchor="middle" style="font-family:'Liberation Sans', Arial, sans-serif;font-size:17px;font-weight:bold;fill:#222">Height (nm)</text>
<rect x="949.5" y="1033.3" width="104.7" height="68.5" fill="#fff" stroke="#3a3a3a" stroke-width="1.6"/>
<text x="953" y="1051.9" style="font-family:'Liberation Sans', Arial, sans-serif;font-size:18px;fill:#222">Profile 2</text>
<line x1="953.5" y1="1068.6" x2="991.5" y2="1068.6" stroke="#f0565a" stroke-width="1.6"/>
<text x="998" y="1074.9" style="font-family:'Liberation Sans', Arial, sans-serif;font-size:18px;fill:#222">After</text>
<line x1="953.5" y1="1091.1" x2="991.5" y2="1091.1" stroke="#474747" stroke-width="1.6"/>
<text x="998" y="1097.4" style="font-family:'Liberation Sans', Arial, sans-serif;font-size:18px;fill:#222">Before</text>
</svg>
</body>
</html>
